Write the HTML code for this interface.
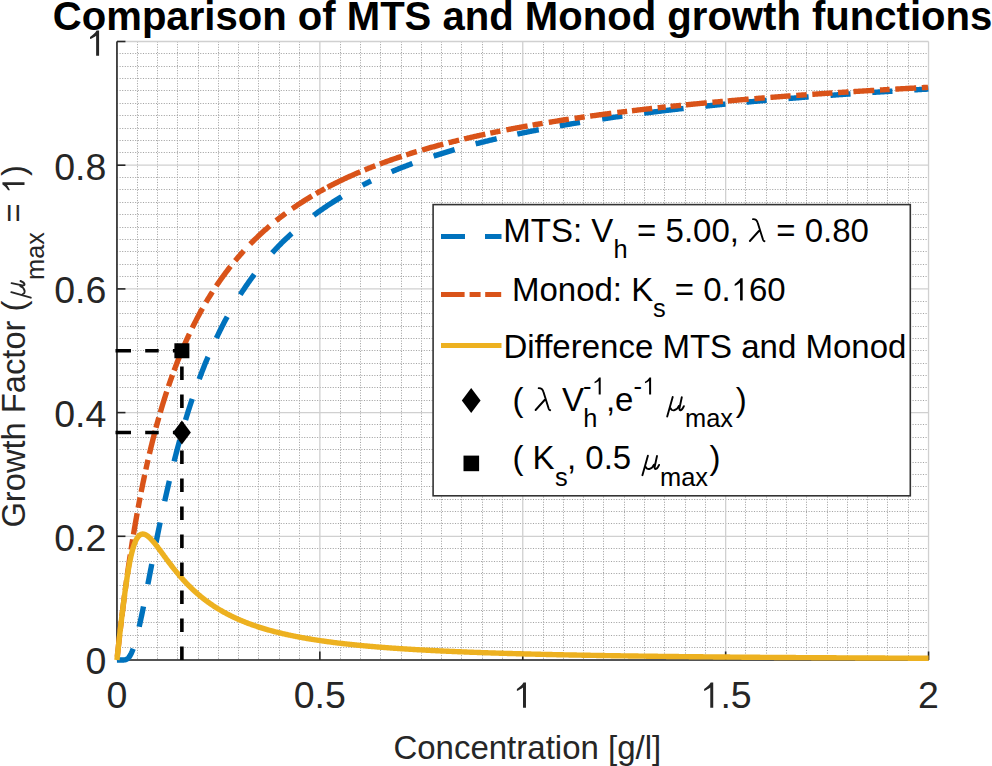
<!DOCTYPE html>
<html><head><meta charset="utf-8"><style>
html,body{margin:0;padding:0;background:#fff;}
svg{display:block;white-space:pre;font-family:"Liberation Sans",sans-serif;}
.mn{stroke:#a4a4a4;stroke-width:1;stroke-dasharray:1.1 1.5;}
.mj{stroke:#d0d0d0;stroke-width:1.3;}
</style></head><body>
<svg width="992" height="766" viewBox="0 0 992 766" xml:space="preserve">
<rect width="992" height="766" fill="#fff"/>
<g><line x1="137.50" y1="41.50" x2="137.50" y2="660.00" class="mn"/><line x1="157.50" y1="41.50" x2="157.50" y2="660.00" class="mn"/><line x1="177.50" y1="41.50" x2="177.50" y2="660.00" class="mn"/><line x1="198.50" y1="41.50" x2="198.50" y2="660.00" class="mn"/><line x1="218.50" y1="41.50" x2="218.50" y2="660.00" class="mn"/><line x1="238.50" y1="41.50" x2="238.50" y2="660.00" class="mn"/><line x1="258.50" y1="41.50" x2="258.50" y2="660.00" class="mn"/><line x1="279.50" y1="41.50" x2="279.50" y2="660.00" class="mn"/><line x1="299.50" y1="41.50" x2="299.50" y2="660.00" class="mn"/><line x1="340.50" y1="41.50" x2="340.50" y2="660.00" class="mn"/><line x1="360.50" y1="41.50" x2="360.50" y2="660.00" class="mn"/><line x1="380.50" y1="41.50" x2="380.50" y2="660.00" class="mn"/><line x1="401.50" y1="41.50" x2="401.50" y2="660.00" class="mn"/><line x1="421.50" y1="41.50" x2="421.50" y2="660.00" class="mn"/><line x1="441.50" y1="41.50" x2="441.50" y2="660.00" class="mn"/><line x1="461.50" y1="41.50" x2="461.50" y2="660.00" class="mn"/><line x1="482.50" y1="41.50" x2="482.50" y2="660.00" class="mn"/><line x1="502.50" y1="41.50" x2="502.50" y2="660.00" class="mn"/><line x1="543.50" y1="41.50" x2="543.50" y2="660.00" class="mn"/><line x1="563.50" y1="41.50" x2="563.50" y2="660.00" class="mn"/><line x1="583.50" y1="41.50" x2="583.50" y2="660.00" class="mn"/><line x1="603.50" y1="41.50" x2="603.50" y2="660.00" class="mn"/><line x1="624.50" y1="41.50" x2="624.50" y2="660.00" class="mn"/><line x1="644.50" y1="41.50" x2="644.50" y2="660.00" class="mn"/><line x1="664.50" y1="41.50" x2="664.50" y2="660.00" class="mn"/><line x1="685.50" y1="41.50" x2="685.50" y2="660.00" class="mn"/><line x1="705.50" y1="41.50" x2="705.50" y2="660.00" class="mn"/><line x1="745.50" y1="41.50" x2="745.50" y2="660.00" class="mn"/><line x1="766.50" y1="41.50" x2="766.50" y2="660.00" class="mn"/><line x1="786.50" y1="41.50" x2="786.50" y2="660.00" class="mn"/><line x1="806.50" y1="41.50" x2="806.50" y2="660.00" class="mn"/><line x1="827.50" y1="41.50" x2="827.50" y2="660.00" class="mn"/><line x1="847.50" y1="41.50" x2="847.50" y2="660.00" class="mn"/><line x1="867.50" y1="41.50" x2="867.50" y2="660.00" class="mn"/><line x1="887.50" y1="41.50" x2="887.50" y2="660.00" class="mn"/><line x1="908.50" y1="41.50" x2="908.50" y2="660.00" class="mn"/><line x1="116.95" y1="647.50" x2="928.55" y2="647.50" class="mn"/><line x1="116.95" y1="635.50" x2="928.55" y2="635.50" class="mn"/><line x1="116.95" y1="622.50" x2="928.55" y2="622.50" class="mn"/><line x1="116.95" y1="610.50" x2="928.55" y2="610.50" class="mn"/><line x1="116.95" y1="598.50" x2="928.55" y2="598.50" class="mn"/><line x1="116.95" y1="585.50" x2="928.55" y2="585.50" class="mn"/><line x1="116.95" y1="573.50" x2="928.55" y2="573.50" class="mn"/><line x1="116.95" y1="561.50" x2="928.55" y2="561.50" class="mn"/><line x1="116.95" y1="548.50" x2="928.55" y2="548.50" class="mn"/><line x1="116.95" y1="523.50" x2="928.55" y2="523.50" class="mn"/><line x1="116.95" y1="511.50" x2="928.55" y2="511.50" class="mn"/><line x1="116.95" y1="499.50" x2="928.55" y2="499.50" class="mn"/><line x1="116.95" y1="486.50" x2="928.55" y2="486.50" class="mn"/><line x1="116.95" y1="474.50" x2="928.55" y2="474.50" class="mn"/><line x1="116.95" y1="462.50" x2="928.55" y2="462.50" class="mn"/><line x1="116.95" y1="449.50" x2="928.55" y2="449.50" class="mn"/><line x1="116.95" y1="437.50" x2="928.55" y2="437.50" class="mn"/><line x1="116.95" y1="424.50" x2="928.55" y2="424.50" class="mn"/><line x1="116.95" y1="400.50" x2="928.55" y2="400.50" class="mn"/><line x1="116.95" y1="387.50" x2="928.55" y2="387.50" class="mn"/><line x1="116.95" y1="375.50" x2="928.55" y2="375.50" class="mn"/><line x1="116.95" y1="363.50" x2="928.55" y2="363.50" class="mn"/><line x1="116.95" y1="350.50" x2="928.55" y2="350.50" class="mn"/><line x1="116.95" y1="338.50" x2="928.55" y2="338.50" class="mn"/><line x1="116.95" y1="326.50" x2="928.55" y2="326.50" class="mn"/><line x1="116.95" y1="313.50" x2="928.55" y2="313.50" class="mn"/><line x1="116.95" y1="301.50" x2="928.55" y2="301.50" class="mn"/><line x1="116.95" y1="276.50" x2="928.55" y2="276.50" class="mn"/><line x1="116.95" y1="264.50" x2="928.55" y2="264.50" class="mn"/><line x1="116.95" y1="251.50" x2="928.55" y2="251.50" class="mn"/><line x1="116.95" y1="239.50" x2="928.55" y2="239.50" class="mn"/><line x1="116.95" y1="227.50" x2="928.55" y2="227.50" class="mn"/><line x1="116.95" y1="214.50" x2="928.55" y2="214.50" class="mn"/><line x1="116.95" y1="202.50" x2="928.55" y2="202.50" class="mn"/><line x1="116.95" y1="189.50" x2="928.55" y2="189.50" class="mn"/><line x1="116.95" y1="177.50" x2="928.55" y2="177.50" class="mn"/><line x1="116.95" y1="152.50" x2="928.55" y2="152.50" class="mn"/><line x1="116.95" y1="140.50" x2="928.55" y2="140.50" class="mn"/><line x1="116.95" y1="128.50" x2="928.55" y2="128.50" class="mn"/><line x1="116.95" y1="115.50" x2="928.55" y2="115.50" class="mn"/><line x1="116.95" y1="103.50" x2="928.55" y2="103.50" class="mn"/><line x1="116.95" y1="90.50" x2="928.55" y2="90.50" class="mn"/><line x1="116.95" y1="78.50" x2="928.55" y2="78.50" class="mn"/><line x1="116.95" y1="66.50" x2="928.55" y2="66.50" class="mn"/><line x1="116.95" y1="53.50" x2="928.55" y2="53.50" class="mn"/><line x1="116.95" y1="41.50" x2="116.95" y2="660.00" class="mj"/><line x1="319.85" y1="41.50" x2="319.85" y2="660.00" class="mj"/><line x1="522.75" y1="41.50" x2="522.75" y2="660.00" class="mj"/><line x1="725.65" y1="41.50" x2="725.65" y2="660.00" class="mj"/><line x1="928.55" y1="41.50" x2="928.55" y2="660.00" class="mj"/><line x1="116.95" y1="660.00" x2="928.55" y2="660.00" class="mj"/><line x1="116.95" y1="536.30" x2="928.55" y2="536.30" class="mj"/><line x1="116.95" y1="412.60" x2="928.55" y2="412.60" class="mj"/><line x1="116.95" y1="288.90" x2="928.55" y2="288.90" class="mj"/><line x1="116.95" y1="165.20" x2="928.55" y2="165.20" class="mj"/><line x1="116.95" y1="41.50" x2="928.55" y2="41.50" class="mj"/></g>
<g stroke="#262626" stroke-width="1.6" fill="none">
<line x1="116.95" y1="41.5" x2="116.95" y2="660.0"/>
<line x1="116.95" y1="660.0" x2="928.55" y2="660.0"/>
<line x1="116.95" y1="660.00" x2="116.95" y2="651.50"/><line x1="319.85" y1="660.00" x2="319.85" y2="651.50"/><line x1="522.75" y1="660.00" x2="522.75" y2="651.50"/><line x1="725.65" y1="660.00" x2="725.65" y2="651.50"/><line x1="928.55" y1="660.00" x2="928.55" y2="651.50"/><line x1="116.95" y1="660.00" x2="125.45" y2="660.00"/><line x1="116.95" y1="536.30" x2="125.45" y2="536.30"/><line x1="116.95" y1="412.60" x2="125.45" y2="412.60"/><line x1="116.95" y1="288.90" x2="125.45" y2="288.90"/><line x1="116.95" y1="165.20" x2="125.45" y2="165.20"/><line x1="116.95" y1="41.50" x2="125.45" y2="41.50"/>
</g>
<g fill="none" stroke-width="5.4" stroke-linejoin="round">
<path d="M116.95 660.00 L117.15 660.00 L117.36 660.00 L117.56 660.00 L117.76 660.00 L117.96 660.00 L118.17 660.00 L118.37 660.00 L118.57 660.00 L118.78 660.00 L118.98 660.00 L119.18 660.00 L119.38 660.00 L119.59 660.00 L119.79 660.00 L119.99 660.00 L120.20 660.00 L120.40 660.00 L120.60 660.00 L120.81 660.00 L121.01 660.00 L121.21 660.00 L121.41 660.00 L121.62 660.00 L121.82 660.00 L122.02 660.00 L122.23 660.00 L122.43 660.00 L122.63 659.99 L122.83 659.99 L123.04 659.99 L123.24 659.98 L123.44 659.97 L123.65 659.96 L123.85 659.95 L124.05 659.93 L124.25 659.91 L124.46 659.89 L124.66 659.86 L124.86 659.83 L125.07 659.79 L125.27 659.75 L125.47 659.70 L125.67 659.64 L125.88 659.57 L126.08 659.50 L126.28 659.41 L126.49 659.32 L126.69 659.21 L126.89 659.10 L127.09 658.97 L127.30 658.83 L127.50 658.69 L127.70 658.52 L127.91 658.35 L128.11 658.16 L128.31 657.96 L128.52 657.74 L128.72 657.52 L128.92 657.27 L129.12 657.01 L129.33 656.74 L129.53 656.45 L129.73 656.15 L129.94 655.83 L130.14 655.50 L130.34 655.15 L130.54 654.79 L130.75 654.41 L130.95 654.01 L131.15 653.60 L131.36 653.18 L131.56 652.74 L131.76 652.28 L131.96 651.81 L132.17 651.32 L132.37 650.82 L132.57 650.31 L132.78 649.78 L132.98 649.23 L133.18 648.67 L133.38 648.10 L133.59 647.51 L133.79 646.91 L133.99 646.29 L134.20 645.67 L134.40 645.03 L134.60 644.37 L134.81 643.70 L135.01 643.02 L135.21 642.33 L135.41 641.63 L135.62 640.91 L135.82 640.19 L136.02 639.45 L136.23 638.70 L136.43 637.94 L136.63 637.16 L136.83 636.38 L137.04 635.59 L137.24 634.79 L137.44 633.98 L137.65 633.16 L137.85 632.33 L138.05 631.49 L138.25 630.64 L138.46 629.78 L138.66 628.92 L138.86 628.04 L139.07 627.16 L139.27 626.28 L139.47 625.38 L139.67 624.48 L139.88 623.57 L140.08 622.65 L140.28 621.73 L140.49 620.80 L140.69 619.86 L140.89 618.92 L141.10 617.98 L141.30 617.02 L141.50 616.07 L141.70 615.10 L141.91 614.14 L142.11 613.16 L142.31 612.19 L142.52 611.21 L142.72 610.22 L142.92 609.23 L143.12 608.24 L143.33 607.24 L143.53 606.24 L143.73 605.23 L143.94 604.23 L144.14 603.22 L144.34 602.20 L144.54 601.19 L144.75 600.17 L144.95 599.15 L145.15 598.12 L145.36 597.10 L145.56 596.07 L145.76 595.04 L145.96 594.01 L146.17 592.97 L146.37 591.94 L146.57 590.90 L146.78 589.86 L146.98 588.83 L147.18 587.79 L147.38 586.74 L147.59 585.70 L147.79 584.66 L147.99 583.61 L148.20 582.57 L148.40 581.52 L148.60 580.48 L148.81 579.43 L149.01 578.39 L149.21 577.34 L149.41 576.30 L149.62 575.25 L149.82 574.20 L150.02 573.16 L150.23 572.11 L150.43 571.07 L150.63 570.02 L150.83 568.98 L151.04 567.93 L151.24 566.89 L151.44 565.84 L151.65 564.80 L151.85 563.76 L152.05 562.72 L152.25 561.68 L152.46 560.64 L152.66 559.60 L152.86 558.57 L153.07 557.53 L153.27 556.50 L153.47 555.47 L153.67 554.43 L153.88 553.40 L154.08 552.37 L154.28 551.35 L154.49 550.32 L154.69 549.30 L154.89 548.27 L155.10 547.25 L155.30 546.23 L155.50 545.21 L155.70 544.20 L155.91 543.18 L156.11 542.17 L156.31 541.16 L156.52 540.15 L156.72 539.14 L156.92 538.13 L157.12 537.13 L157.33 536.13 L157.53 535.13 L157.73 534.13 L157.94 533.13 L158.14 532.14 L158.34 531.15 L158.54 530.16 L158.75 529.17 L158.95 528.18 L159.15 527.20 L159.36 526.22 L159.56 525.24 L159.76 524.26 L159.96 523.29 L160.17 522.32 L160.37 521.35 L160.57 520.38 L160.78 519.41 L160.98 518.45 L161.18 517.49 L161.39 516.53 L161.59 515.58 L161.79 514.62 L161.99 513.67 L162.20 512.72 L162.40 511.78 L162.60 510.83 L162.81 509.89 L163.01 508.95 L163.21 508.01 L163.41 507.08 L163.62 506.15 L163.82 505.22 L164.02 504.29 L164.23 503.37 L164.43 502.44 L164.63 501.53 L164.83 500.61 L165.04 499.69 L165.24 498.78 L165.44 497.87 L165.65 496.97 L165.85 496.06 L166.05 495.16 L166.25 494.26 L166.46 493.36 L166.66 492.47 L166.86 491.58 L167.07 490.69 L167.27 489.80 L167.47 488.92 L167.68 488.03 L167.88 487.15 L168.08 486.28 L168.28 485.40 L168.49 484.53 L168.69 483.66 L168.89 482.80 L169.10 481.93 L169.30 481.07 L169.50 480.21 L169.70 479.36 L169.91 478.50 L170.11 477.65 L170.31 476.80 L170.52 475.96 L170.72 475.11 L170.92 474.27 L171.12 473.43 L171.33 472.60 L171.53 471.76 L171.73 470.93 L171.94 470.10 L172.14 469.28 L172.34 468.45 L172.54 467.63 L172.75 466.81 L172.95 466.00 L173.15 465.18 L173.36 464.37 L173.56 463.56 L173.76 462.76 L173.96 461.95 L174.17 461.15 L174.37 460.35 L174.57 459.56 L174.78 458.76 L174.98 457.97 L175.18 457.18 L175.39 456.39 L175.59 455.61 L175.79 454.83 L175.99 454.05 L176.20 453.27 L176.40 452.50 L176.60 451.72 L176.81 450.95 L177.01 450.19 L177.21 449.42 L177.41 448.66 L177.62 447.90 L177.82 447.14 L178.02 446.39 L178.23 445.63 L178.43 444.88 L178.63 444.13 L178.83 443.39 L179.04 442.64 L179.24 441.90 L179.44 441.16 L179.65 440.42 L179.85 439.69 L180.05 438.96 L180.25 438.23 L180.46 437.50 L180.66 436.77 L180.86 436.05 L181.07 435.33 L181.27 434.61 L181.47 433.89 L181.68 433.18 L181.88 432.47 L182.08 431.76 L182.28 431.05 L182.49 430.34 L182.69 429.64 L182.89 428.94 L183.10 428.24 L183.30 427.54 L183.50 426.85 L183.70 426.16 L183.91 425.47 L184.11 424.78 L184.31 424.09 L184.52 423.41 L184.72 422.73 L184.92 422.05 L185.12 421.37 L185.33 420.69 L185.53 420.02 L185.73 419.35 L185.94 418.68 L186.14 418.01 L186.34 417.35 L186.54 416.69 L186.75 416.03 L186.95 415.37 L187.15 414.71 L187.36 414.06 L187.56 413.40 L187.76 412.75 L187.96 412.10 L188.17 411.46 L188.37 410.81 L188.57 410.17 L188.78 409.53 L188.98 408.89 L189.18 408.25 L189.39 407.62 L189.59 406.99 L189.79 406.36 L189.99 405.73 L190.20 405.10 L190.40 404.48 L190.60 403.85 L190.81 403.23 L191.01 402.61 L191.21 401.99 L191.41 401.38 L191.62 400.77 L191.82 400.15 L192.02 399.54 L192.23 398.94 L192.43 398.33 L192.63 397.73 L192.83 397.12 L193.04 396.52 L193.24 395.92 L193.44 395.33 L193.65 394.73 L193.85 394.14 L194.05 393.55 L194.25 392.96 L194.46 392.37 L194.66 391.79 L194.86 391.20 L195.07 390.62 L195.27 390.04 L195.47 389.46 L195.68 388.88 L195.88 388.31 L196.08 387.73 L196.28 387.16 L196.49 386.59 L196.69 386.02 L196.89 385.46 L197.10 384.89 L197.30 384.33 L197.50 383.77 L197.70 383.21 L197.91 382.65 L198.11 382.09 L198.92 379.88 L199.73 377.70 L200.54 375.54 L201.36 373.41 L202.17 371.30 L202.98 369.22 L203.79 367.16 L204.60 365.12 L205.41 363.11 L206.23 361.13 L207.04 359.16 L207.85 357.22 L208.66 355.30 L209.47 353.40 L210.28 351.52 L211.10 349.67 L211.91 347.83 L212.72 346.02 L213.53 344.23 L214.34 342.45 L215.15 340.70 L215.97 338.96 L216.78 337.25 L217.59 335.55 L218.40 333.87 L219.21 332.21 L220.02 330.57 L220.83 328.94 L221.65 327.33 L222.46 325.74 L223.27 324.17 L224.08 322.61 L224.89 321.07 L225.70 319.55 L226.52 318.04 L227.33 316.54 L228.14 315.07 L228.95 313.60 L229.76 312.15 L230.57 310.72 L231.39 309.30 L232.20 307.90 L233.01 306.51 L233.82 305.13 L234.63 303.77 L235.44 302.42 L236.26 301.09 L237.07 299.76 L237.88 298.46 L238.69 297.16 L239.50 295.88 L240.31 294.60 L241.12 293.34 L241.94 292.10 L242.75 290.86 L243.56 289.64 L244.37 288.43 L245.18 287.23 L245.99 286.04 L246.81 284.86 L247.62 283.69 L248.43 282.54 L249.24 281.39 L250.05 280.26 L250.86 279.13 L251.68 278.02 L252.49 276.92 L253.30 275.82 L254.11 274.74 L254.92 273.66 L255.73 272.60 L256.55 271.54 L257.36 270.50 L258.17 269.46 L258.98 268.43 L259.79 267.42 L260.60 266.41 L261.41 265.41 L262.23 264.41 L263.04 263.43 L263.85 262.45 L264.66 261.49 L265.47 260.53 L266.28 259.58 L267.10 258.64 L267.91 257.70 L268.72 256.78 L269.53 255.86 L270.34 254.95 L271.15 254.04 L271.97 253.15 L272.78 252.26 L273.59 251.38 L274.40 250.50 L275.21 249.64 L276.02 248.78 L276.84 247.92 L277.65 247.08 L278.46 246.24 L279.27 245.41 L280.08 244.58 L280.89 243.76 L281.70 242.95 L282.52 242.14 L283.33 241.34 L284.14 240.55 L284.95 239.76 L285.76 238.98 L286.57 238.20 L287.39 237.43 L288.20 236.67 L289.01 235.91 L289.82 235.16 L290.63 234.41 L291.44 233.67 L292.26 232.94 L293.07 232.21 L293.88 231.49 L294.69 230.77 L295.50 230.05 L296.31 229.35 L297.13 228.64 L297.94 227.95 L298.75 227.25 L299.56 226.57 L300.37 225.88 L301.18 225.21 L301.99 224.53 L302.81 223.86 L303.62 223.20 L304.43 222.54 L305.24 221.89 L306.05 221.24 L306.86 220.60 L307.68 219.96 L308.49 219.32 L309.30 218.69 L310.11 218.07 L310.92 217.44 L311.73 216.83 L312.55 216.21 L313.36 215.60 L314.17 215.00 L314.98 214.40 L315.79 213.80 L316.60 213.21 L317.42 212.62 L318.23 212.03 L319.04 211.45 L319.85 210.88 L320.66 210.30 L321.47 209.73 L322.28 209.17 L323.10 208.61 L323.91 208.05 L324.72 207.50 L325.53 206.95 L326.34 206.40 L327.15 205.85 L327.97 205.31 L328.78 204.78 L329.59 204.25 L330.40 203.72 L331.21 203.19 L332.02 202.67 L332.84 202.15 L333.65 201.63 L334.46 201.12 L335.27 200.61 L336.08 200.10 L336.89 199.60 L337.71 199.10 L338.52 198.60 L339.33 198.11 L340.14 197.62 L340.95 197.13 L341.76 196.65 L342.57 196.17 L343.39 195.69 L344.20 195.21 L345.01 194.74 L345.82 194.27 L346.63 193.80 L347.44 193.34 L348.26 192.88 L349.07 192.42 L349.88 191.96 L350.69 191.51 L351.50 191.06 L352.31 190.61 L353.13 190.16 L353.94 189.72 L354.75 189.28 L355.56 188.84 L356.37 188.41 L357.18 187.98 L358.00 187.55 L358.81 187.12 L359.62 186.70 L360.43 186.27 L361.24 185.85 L362.05 185.44 L362.86 185.02 L363.68 184.61 L364.49 184.20 L365.30 183.79 L366.11 183.38 L366.92 182.98 L367.73 182.58 L368.55 182.18 L369.36 181.78 L370.17 181.39 L370.98 181.00 L371.79 180.61 L372.60 180.22 L373.42 179.83 L374.23 179.45 L375.04 179.07 L375.85 178.69 L376.66 178.31 L377.47 177.94 L378.29 177.56 L379.10 177.19 L379.91 176.82 L380.72 176.46 L381.53 176.09 L382.34 175.73 L383.15 175.37 L383.97 175.01 L384.78 174.65 L385.59 174.29 L386.40 173.94 L387.21 173.59 L388.02 173.24 L388.84 172.89 L389.65 172.54 L390.46 172.20 L391.27 171.86 L392.08 171.51 L392.89 171.18 L393.71 170.84 L394.52 170.50 L395.33 170.17 L396.14 169.84 L396.95 169.51 L397.76 169.18 L398.58 168.85 L399.39 168.52 L400.20 168.20 L401.01 167.88 L401.82 167.56 L402.63 167.24 L403.44 166.92 L404.26 166.61 L405.07 166.29 L405.88 165.98 L406.69 165.67 L407.50 165.36 L408.31 165.05 L409.13 164.74 L409.94 164.44 L410.75 164.14 L411.56 163.83 L412.37 163.53 L413.18 163.23 L414.00 162.94 L414.81 162.64 L415.62 162.35 L416.43 162.05 L417.24 161.76 L418.05 161.47 L418.87 161.18 L419.68 160.89 L420.49 160.61 L421.30 160.32 L422.11 160.04 L422.92 159.76 L423.73 159.48 L424.55 159.20 L425.36 158.92 L426.17 158.64 L426.98 158.36 L427.79 158.09 L428.60 157.82 L429.42 157.55 L430.23 157.27 L431.04 157.01 L431.85 156.74 L432.66 156.47 L433.47 156.21 L434.29 155.94 L435.10 155.68 L435.91 155.42 L436.72 155.15 L437.53 154.90 L438.34 154.64 L439.16 154.38 L439.97 154.12 L440.78 153.87 L441.59 153.62 L442.40 153.36 L443.21 153.11 L444.02 152.86 L444.84 152.61 L445.65 152.36 L446.46 152.12 L447.27 151.87 L448.08 151.63 L448.89 151.38 L449.71 151.14 L450.52 150.90 L451.33 150.66 L452.14 150.42 L452.95 150.18 L453.76 149.94 L454.58 149.70 L455.39 149.47 L456.20 149.23 L457.01 149.00 L457.82 148.77 L458.63 148.54 L459.45 148.31 L460.26 148.08 L461.07 147.85 L461.88 147.62 L462.69 147.40 L463.50 147.17 L464.31 146.95 L465.13 146.72 L465.94 146.50 L466.75 146.28 L467.56 146.06 L468.37 145.84 L469.18 145.62 L470.00 145.40 L470.81 145.18 L471.62 144.97 L472.43 144.75 L473.24 144.54 L474.05 144.32 L474.87 144.11 L475.68 143.90 L476.49 143.69 L477.30 143.48 L478.11 143.27 L478.92 143.06 L479.74 142.85 L480.55 142.65 L481.36 142.44 L482.17 142.24 L482.98 142.03 L483.79 141.83 L484.60 141.63 L485.42 141.42 L486.23 141.22 L487.04 141.02 L487.85 140.82 L488.66 140.63 L489.47 140.43 L490.29 140.23 L491.10 140.04 L491.91 139.84 L492.72 139.65 L493.53 139.45 L494.34 139.26 L495.16 139.07 L495.97 138.87 L496.78 138.68 L497.59 138.49 L498.40 138.30 L499.21 138.12 L500.03 137.93 L500.84 137.74 L501.65 137.55 L502.46 137.37 L503.27 137.18 L504.08 137.00 L504.89 136.82 L505.71 136.63 L506.52 136.45 L507.33 136.27 L508.14 136.09 L508.95 135.91 L509.76 135.73 L510.58 135.55 L511.39 135.37 L512.20 135.20 L513.01 135.02 L513.82 134.84 L514.63 134.67 L515.45 134.49 L516.26 134.32 L517.07 134.15 L517.88 133.97 L518.69 133.80 L519.50 133.63 L520.32 133.46 L521.13 133.29 L521.94 133.12 L522.75 132.95 L523.56 132.78 L524.37 132.61 L525.18 132.45 L526.00 132.28 L526.81 132.11 L527.62 131.95 L528.43 131.78 L529.24 131.62 L530.05 131.46 L530.87 131.29 L531.68 131.13 L532.49 130.97 L533.30 130.81 L534.11 130.65 L534.92 130.49 L535.74 130.33 L536.55 130.17 L537.36 130.01 L538.17 129.85 L538.98 129.70 L539.79 129.54 L540.61 129.38 L541.42 129.23 L542.23 129.07 L543.04 128.92 L543.85 128.76 L544.66 128.61 L545.47 128.46 L546.29 128.31 L547.10 128.15 L547.91 128.00 L548.72 127.85 L549.53 127.70 L550.34 127.55 L551.16 127.40 L551.97 127.25 L552.78 127.11 L553.59 126.96 L554.40 126.81 L555.21 126.67 L556.03 126.52 L556.84 126.37 L557.65 126.23 L558.46 126.08 L559.27 125.94 L560.08 125.80 L560.90 125.65 L561.71 125.51 L562.52 125.37 L563.33 125.23 L564.14 125.09 L564.95 124.94 L565.76 124.80 L566.58 124.66 L567.39 124.53 L568.20 124.39 L569.01 124.25 L569.82 124.11 L570.63 123.97 L571.45 123.84 L572.26 123.70 L573.07 123.56 L573.88 123.43 L574.69 123.29 L575.50 123.16 L576.32 123.02 L577.13 122.89 L577.94 122.76 L578.75 122.62 L579.56 122.49 L580.37 122.36 L581.19 122.23 L582.00 122.10 L582.81 121.96 L583.62 121.83 L584.43 121.70 L585.24 121.57 L586.05 121.45 L586.87 121.32 L587.68 121.19 L588.49 121.06 L589.30 120.93 L590.11 120.81 L590.92 120.68 L591.74 120.55 L592.55 120.43 L593.36 120.30 L594.17 120.18 L594.98 120.05 L595.79 119.93 L596.61 119.80 L597.42 119.68 L598.23 119.56 L599.04 119.43 L599.85 119.31 L600.66 119.19 L601.48 119.07 L602.29 118.95 L603.10 118.83 L603.91 118.71 L604.72 118.59 L605.53 118.47 L606.34 118.35 L607.16 118.23 L607.97 118.11 L608.78 117.99 L609.59 117.87 L610.40 117.75 L611.21 117.64 L612.03 117.52 L612.84 117.40 L613.65 117.29 L614.46 117.17 L615.27 117.06 L616.08 116.94 L616.90 116.83 L617.71 116.71 L618.52 116.60 L619.33 116.49 L620.14 116.37 L620.95 116.26 L621.77 116.15 L622.58 116.03 L623.39 115.92 L624.20 115.81 L625.01 115.70 L625.82 115.59 L626.63 115.48 L627.45 115.37 L628.26 115.26 L629.07 115.15 L629.88 115.04 L630.69 114.93 L631.50 114.82 L632.32 114.71 L633.13 114.60 L633.94 114.50 L634.75 114.39 L635.56 114.28 L636.37 114.18 L637.19 114.07 L638.00 113.96 L638.81 113.86 L639.62 113.75 L640.43 113.65 L641.24 113.54 L642.06 113.44 L642.87 113.33 L643.68 113.23 L644.49 113.12 L645.30 113.02 L646.11 112.92 L646.92 112.82 L647.74 112.71 L648.55 112.61 L649.36 112.51 L650.17 112.41 L650.98 112.31 L651.79 112.20 L652.61 112.10 L653.42 112.00 L654.23 111.90 L655.04 111.80 L655.85 111.70 L656.66 111.60 L657.48 111.51 L658.29 111.41 L659.10 111.31 L659.91 111.21 L660.72 111.11 L661.53 111.01 L662.35 110.92 L663.16 110.82 L663.97 110.72 L664.78 110.63 L665.59 110.53 L666.40 110.43 L667.21 110.34 L668.03 110.24 L668.84 110.15 L669.65 110.05 L670.46 109.96 L671.27 109.86 L672.08 109.77 L672.90 109.68 L673.71 109.58 L674.52 109.49 L675.33 109.39 L676.14 109.30 L676.95 109.21 L677.77 109.12 L678.58 109.02 L679.39 108.93 L680.20 108.84 L681.01 108.75 L681.82 108.66 L682.64 108.57 L683.45 108.48 L684.26 108.39 L685.07 108.30 L685.88 108.21 L686.69 108.12 L687.50 108.03 L688.32 107.94 L689.13 107.85 L689.94 107.76 L690.75 107.67 L691.56 107.58 L692.37 107.50 L693.19 107.41 L694.00 107.32 L694.81 107.23 L695.62 107.15 L696.43 107.06 L697.24 106.97 L698.06 106.89 L698.87 106.80 L699.68 106.71 L700.49 106.63 L701.30 106.54 L702.11 106.46 L702.93 106.37 L703.74 106.29 L704.55 106.20 L705.36 106.12 L706.17 106.03 L706.98 105.95 L707.79 105.87 L708.61 105.78 L709.42 105.70 L710.23 105.62 L711.04 105.53 L711.85 105.45 L712.66 105.37 L713.48 105.29 L714.29 105.20 L715.10 105.12 L715.91 105.04 L716.72 104.96 L717.53 104.88 L718.35 104.80 L719.16 104.72 L719.97 104.63 L720.78 104.55 L721.59 104.47 L722.40 104.39 L723.22 104.31 L724.03 104.24 L724.84 104.16 L725.65 104.08 L726.46 104.00 L727.27 103.92 L728.08 103.84 L728.90 103.76 L729.71 103.68 L730.52 103.61 L731.33 103.53 L732.14 103.45 L732.95 103.37 L733.77 103.30 L734.58 103.22 L735.39 103.14 L736.20 103.07 L737.01 102.99 L737.82 102.91 L738.64 102.84 L739.45 102.76 L740.26 102.69 L741.07 102.61 L741.88 102.53 L742.69 102.46 L743.51 102.38 L744.32 102.31 L745.13 102.23 L745.94 102.16 L746.75 102.09 L747.56 102.01 L748.37 101.94 L749.19 101.86 L750.00 101.79 L750.81 101.72 L751.62 101.64 L752.43 101.57 L753.24 101.50 L754.06 101.43 L754.87 101.35 L755.68 101.28 L756.49 101.21 L757.30 101.14 L758.11 101.07 L758.93 100.99 L759.74 100.92 L760.55 100.85 L761.36 100.78 L762.17 100.71 L762.98 100.64 L763.80 100.57 L764.61 100.50 L765.42 100.43 L766.23 100.36 L767.04 100.29 L767.85 100.22 L768.66 100.15 L769.48 100.08 L770.29 100.01 L771.10 99.94 L771.91 99.87 L772.72 99.80 L773.53 99.74 L774.35 99.67 L775.16 99.60 L775.97 99.53 L776.78 99.46 L777.59 99.39 L778.40 99.33 L779.22 99.26 L780.03 99.19 L780.84 99.13 L781.65 99.06 L782.46 98.99 L783.27 98.92 L784.09 98.86 L784.90 98.79 L785.71 98.73 L786.52 98.66 L787.33 98.59 L788.14 98.53 L788.95 98.46 L789.77 98.40 L790.58 98.33 L791.39 98.27 L792.20 98.20 L793.01 98.14 L793.82 98.07 L794.64 98.01 L795.45 97.94 L796.26 97.88 L797.07 97.81 L797.88 97.75 L798.69 97.69 L799.51 97.62 L800.32 97.56 L801.13 97.50 L801.94 97.43 L802.75 97.37 L803.56 97.31 L804.38 97.24 L805.19 97.18 L806.00 97.12 L806.81 97.06 L807.62 96.99 L808.43 96.93 L809.24 96.87 L810.06 96.81 L810.87 96.75 L811.68 96.68 L812.49 96.62 L813.30 96.56 L814.11 96.50 L814.93 96.44 L815.74 96.38 L816.55 96.32 L817.36 96.26 L818.17 96.20 L818.98 96.14 L819.80 96.08 L820.61 96.02 L821.42 95.96 L822.23 95.90 L823.04 95.84 L823.85 95.78 L824.67 95.72 L825.48 95.66 L826.29 95.60 L827.10 95.54 L827.91 95.48 L828.72 95.42 L829.53 95.36 L830.35 95.31 L831.16 95.25 L831.97 95.19 L832.78 95.13 L833.59 95.07 L834.40 95.01 L835.22 94.96 L836.03 94.90 L836.84 94.84 L837.65 94.78 L838.46 94.73 L839.27 94.67 L840.09 94.61 L840.90 94.56 L841.71 94.50 L842.52 94.44 L843.33 94.39 L844.14 94.33 L844.96 94.27 L845.77 94.22 L846.58 94.16 L847.39 94.11 L848.20 94.05 L849.01 93.99 L849.82 93.94 L850.64 93.88 L851.45 93.83 L852.26 93.77 L853.07 93.72 L853.88 93.66 L854.69 93.61 L855.51 93.55 L856.32 93.50 L857.13 93.44 L857.94 93.39 L858.75 93.33 L859.56 93.28 L860.38 93.23 L861.19 93.17 L862.00 93.12 L862.81 93.06 L863.62 93.01 L864.43 92.96 L865.25 92.90 L866.06 92.85 L866.87 92.80 L867.68 92.74 L868.49 92.69 L869.30 92.64 L870.11 92.59 L870.93 92.53 L871.74 92.48 L872.55 92.43 L873.36 92.38 L874.17 92.32 L874.98 92.27 L875.80 92.22 L876.61 92.17 L877.42 92.12 L878.23 92.06 L879.04 92.01 L879.85 91.96 L880.67 91.91 L881.48 91.86 L882.29 91.81 L883.10 91.76 L883.91 91.70 L884.72 91.65 L885.54 91.60 L886.35 91.55 L887.16 91.50 L887.97 91.45 L888.78 91.40 L889.59 91.35 L890.40 91.30 L891.22 91.25 L892.03 91.20 L892.84 91.15 L893.65 91.10 L894.46 91.05 L895.27 91.00 L896.09 90.95 L896.90 90.90 L897.71 90.85 L898.52 90.80 L899.33 90.76 L900.14 90.71 L900.96 90.66 L901.77 90.61 L902.58 90.56 L903.39 90.51 L904.20 90.46 L905.01 90.42 L905.83 90.37 L906.64 90.32 L907.45 90.27 L908.26 90.22 L909.07 90.17 L909.88 90.13 L910.69 90.08 L911.51 90.03 L912.32 89.98 L913.13 89.94 L913.94 89.89 L914.75 89.84 L915.56 89.79 L916.38 89.75 L917.19 89.70 L918.00 89.65 L918.81 89.61 L919.62 89.56 L920.43 89.51 L921.25 89.47 L922.06 89.42 L922.87 89.37 L923.68 89.33 L924.49 89.28 L925.30 89.24 L926.12 89.19 L926.93 89.14 L927.74 89.10 L928.55 89.05" stroke="#0072bd" stroke-dasharray="22.4 22.8 20.7 22.6 20.7 22.0 20.3 21.8 20.9 20.0 22.0 20.9 22.2 21.0 23.9 20.6 24.0 25.6 24.7 27.9 27.7 28.4 33.6 23.8 9.6 22.5 22.4 22.4 22.0 21.8 21.7 21.1 21.9 21.4 20.5 22.4 20.4 21.9 39.8 21.9 20.2 21.1 20.3 21.8 20.3 21.9 20.1 21.8 20.2 21.8 14.2 500"/>
<path d="M116.95 660.00 L117.15 658.07 L117.36 656.16 L117.56 654.26 L117.76 652.36 L117.96 650.48 L118.17 648.62 L118.37 646.76 L118.57 644.91 L118.78 643.08 L118.98 641.26 L119.18 639.45 L119.38 637.64 L119.59 635.85 L119.79 634.07 L119.99 632.31 L120.20 630.55 L120.40 628.80 L120.60 627.06 L120.81 625.33 L121.01 623.62 L121.21 621.91 L121.41 620.21 L121.62 618.53 L121.82 616.85 L122.02 615.18 L122.23 613.52 L122.43 611.87 L122.63 610.24 L122.83 608.61 L123.04 606.99 L123.24 605.37 L123.44 603.77 L123.65 602.18 L123.85 600.60 L124.05 599.02 L124.25 597.46 L124.46 595.90 L124.66 594.35 L124.86 592.81 L125.07 591.28 L125.27 589.75 L125.47 588.24 L125.67 586.73 L125.88 585.24 L126.08 583.75 L126.28 582.27 L126.49 580.79 L126.69 579.33 L126.89 577.87 L127.09 576.42 L127.30 574.98 L127.50 573.54 L127.70 572.12 L127.91 570.70 L128.11 569.29 L128.31 567.88 L128.52 566.49 L128.72 565.10 L128.92 563.72 L129.12 562.34 L129.33 560.98 L129.53 559.62 L129.73 558.26 L129.94 556.92 L130.14 555.58 L130.34 554.25 L130.54 552.92 L130.75 551.60 L130.95 550.29 L131.15 548.99 L131.36 547.69 L131.56 546.40 L131.76 545.11 L131.96 543.84 L132.17 542.56 L132.37 541.30 L132.57 540.04 L132.78 538.79 L132.98 537.54 L133.18 536.30 L133.38 535.07 L133.59 533.84 L133.79 532.62 L133.99 531.40 L134.20 530.19 L134.40 528.99 L134.60 527.79 L134.81 526.60 L135.01 525.41 L135.21 524.23 L135.41 523.06 L135.62 521.89 L135.82 520.73 L136.02 519.57 L136.23 518.42 L136.43 517.27 L136.63 516.13 L136.83 514.99 L137.04 513.86 L137.24 512.74 L137.44 511.62 L137.65 510.50 L137.85 509.40 L138.05 508.29 L138.25 507.19 L138.46 506.10 L138.66 505.01 L138.86 503.93 L139.07 502.85 L139.27 501.78 L139.47 500.71 L139.67 499.65 L139.88 498.59 L140.08 497.54 L140.28 496.49 L140.49 495.44 L140.69 494.41 L140.89 493.37 L141.10 492.34 L141.30 491.32 L141.50 490.30 L141.70 489.28 L141.91 488.27 L142.11 487.27 L142.31 486.26 L142.52 485.27 L142.72 484.27 L142.92 483.29 L143.12 482.30 L143.33 481.32 L143.53 480.35 L143.73 479.38 L143.94 478.41 L144.14 477.45 L144.34 476.49 L144.54 475.54 L144.75 474.59 L144.95 473.64 L145.15 472.70 L145.36 471.76 L145.56 470.83 L145.76 469.90 L145.96 468.97 L146.17 468.05 L146.37 467.13 L146.57 466.22 L146.78 465.31 L146.98 464.41 L147.18 463.50 L147.38 462.61 L147.59 461.71 L147.79 460.82 L147.99 459.94 L148.20 459.05 L148.40 458.17 L148.60 457.30 L148.81 456.43 L149.01 455.56 L149.21 454.69 L149.41 453.83 L149.62 452.98 L149.82 452.12 L150.02 451.27 L150.23 450.43 L150.43 449.58 L150.63 448.74 L150.83 447.91 L151.04 447.07 L151.24 446.24 L151.44 445.42 L151.65 444.60 L151.85 443.78 L152.05 442.96 L152.25 442.15 L152.46 441.34 L152.66 440.53 L152.86 439.73 L153.07 438.93 L153.27 438.13 L153.47 437.34 L153.67 436.55 L153.88 435.76 L154.08 434.98 L154.28 434.20 L154.49 433.42 L154.69 432.65 L154.89 431.87 L155.10 431.11 L155.30 430.34 L155.50 429.58 L155.70 428.82 L155.91 428.06 L156.11 427.31 L156.31 426.56 L156.52 425.81 L156.72 425.07 L156.92 424.32 L157.12 423.58 L157.33 422.85 L157.53 422.12 L157.73 421.38 L157.94 420.66 L158.14 419.93 L158.34 419.21 L158.54 418.49 L158.75 417.77 L158.95 417.06 L159.15 416.35 L159.36 415.64 L159.56 414.93 L159.76 414.23 L159.96 413.53 L160.17 412.83 L160.37 412.14 L160.57 411.44 L160.78 410.75 L160.98 410.07 L161.18 409.38 L161.39 408.70 L161.59 408.02 L161.79 407.34 L161.99 406.67 L162.20 405.99 L162.40 405.32 L162.60 404.66 L162.81 403.99 L163.01 403.33 L163.21 402.67 L163.41 402.01 L163.62 401.35 L163.82 400.70 L164.02 400.05 L164.23 399.40 L164.43 398.76 L164.63 398.11 L164.83 397.47 L165.04 396.83 L165.24 396.20 L165.44 395.56 L165.65 394.93 L165.85 394.30 L166.05 393.67 L166.25 393.05 L166.46 392.42 L166.66 391.80 L166.86 391.18 L167.07 390.57 L167.27 389.95 L167.47 389.34 L167.68 388.73 L167.88 388.12 L168.08 387.51 L168.28 386.91 L168.49 386.31 L168.69 385.71 L168.89 385.11 L169.10 384.52 L169.30 383.92 L169.50 383.33 L169.70 382.74 L169.91 382.15 L170.11 381.57 L170.31 380.99 L170.52 380.40 L170.72 379.82 L170.92 379.25 L171.12 378.67 L171.33 378.10 L171.53 377.53 L171.73 376.96 L171.94 376.39 L172.14 375.82 L172.34 375.26 L172.54 374.70 L172.75 374.14 L172.95 373.58 L173.15 373.02 L173.36 372.47 L173.56 371.92 L173.76 371.37 L173.96 370.82 L174.17 370.27 L174.37 369.73 L174.57 369.18 L174.78 368.64 L174.98 368.10 L175.18 367.56 L175.39 367.03 L175.59 366.49 L175.79 365.96 L175.99 365.43 L176.20 364.90 L176.40 364.37 L176.60 363.85 L176.81 363.32 L177.01 362.80 L177.21 362.28 L177.41 361.76 L177.62 361.24 L177.82 360.73 L178.02 360.21 L178.23 359.70 L178.43 359.19 L178.63 358.68 L178.83 358.17 L179.04 357.67 L179.24 357.16 L179.44 356.66 L179.65 356.16 L179.85 355.66 L180.05 355.16 L180.25 354.66 L180.46 354.17 L180.66 353.68 L180.86 353.19 L181.07 352.69 L181.27 352.21 L181.47 351.72 L181.68 351.23 L181.88 350.75 L182.08 350.27 L182.28 349.79 L182.49 349.31 L182.69 348.83 L182.89 348.35 L183.10 347.88 L183.30 347.40 L183.50 346.93 L183.70 346.46 L183.91 345.99 L184.11 345.52 L184.31 345.06 L184.52 344.59 L184.72 344.13 L184.92 343.67 L185.12 343.21 L185.33 342.75 L185.53 342.29 L185.73 341.83 L185.94 341.38 L186.14 340.93 L186.34 340.47 L186.54 340.02 L186.75 339.57 L186.95 339.12 L187.15 338.68 L187.36 338.23 L187.56 337.79 L187.76 337.34 L187.96 336.90 L188.17 336.46 L188.37 336.02 L188.57 335.59 L188.78 335.15 L188.98 334.71 L189.18 334.28 L189.39 333.85 L189.59 333.42 L189.79 332.99 L189.99 332.56 L190.20 332.13 L190.40 331.71 L190.60 331.28 L190.81 330.86 L191.01 330.43 L191.21 330.01 L191.41 329.59 L191.62 329.17 L191.82 328.76 L192.02 328.34 L192.23 327.93 L192.43 327.51 L192.63 327.10 L192.83 326.69 L193.04 326.28 L193.24 325.87 L193.44 325.46 L193.65 325.05 L193.85 324.65 L194.05 324.24 L194.25 323.84 L194.46 323.44 L194.66 323.04 L194.86 322.64 L195.07 322.24 L195.27 321.84 L195.47 321.44 L195.68 321.05 L195.88 320.65 L196.08 320.26 L196.28 319.87 L196.49 319.48 L196.69 319.09 L196.89 318.70 L197.10 318.31 L197.30 317.92 L197.50 317.54 L197.70 317.15 L197.91 316.77 L198.11 316.39 L198.92 314.87 L199.73 313.37 L200.54 311.88 L201.36 310.41 L202.17 308.96 L202.98 307.52 L203.79 306.10 L204.60 304.69 L205.41 303.30 L206.23 301.92 L207.04 300.56 L207.85 299.21 L208.66 297.87 L209.47 296.55 L210.28 295.24 L211.10 293.95 L211.91 292.67 L212.72 291.40 L213.53 290.14 L214.34 288.90 L215.15 287.67 L215.97 286.45 L216.78 285.24 L217.59 284.05 L218.40 282.87 L219.21 281.69 L220.02 280.53 L220.83 279.38 L221.65 278.25 L222.46 277.12 L223.27 276.00 L224.08 274.90 L224.89 273.80 L225.70 272.71 L226.52 271.64 L227.33 270.57 L228.14 269.52 L228.95 268.47 L229.76 267.44 L230.57 266.41 L231.39 265.39 L232.20 264.38 L233.01 263.38 L233.82 262.39 L234.63 261.41 L235.44 260.44 L236.26 259.47 L237.07 258.52 L237.88 257.57 L238.69 256.63 L239.50 255.70 L240.31 254.78 L241.12 253.86 L241.94 252.95 L242.75 252.05 L243.56 251.16 L244.37 250.28 L245.18 249.40 L245.99 248.53 L246.81 247.67 L247.62 246.81 L248.43 245.96 L249.24 245.12 L250.05 244.29 L250.86 243.46 L251.68 242.64 L252.49 241.82 L253.30 241.02 L254.11 240.21 L254.92 239.42 L255.73 238.63 L256.55 237.85 L257.36 237.07 L258.17 236.30 L258.98 235.54 L259.79 234.78 L260.60 234.03 L261.41 233.28 L262.23 232.54 L263.04 231.81 L263.85 231.08 L264.66 230.35 L265.47 229.64 L266.28 228.92 L267.10 228.22 L267.91 227.52 L268.72 226.82 L269.53 226.13 L270.34 225.44 L271.15 224.76 L271.97 224.08 L272.78 223.41 L273.59 222.75 L274.40 222.08 L275.21 221.43 L276.02 220.78 L276.84 220.13 L277.65 219.49 L278.46 218.85 L279.27 218.21 L280.08 217.59 L280.89 216.96 L281.70 216.34 L282.52 215.73 L283.33 215.11 L284.14 214.51 L284.95 213.90 L285.76 213.31 L286.57 212.71 L287.39 212.12 L288.20 211.53 L289.01 210.95 L289.82 210.37 L290.63 209.80 L291.44 209.23 L292.26 208.66 L293.07 208.10 L293.88 207.54 L294.69 206.98 L295.50 206.43 L296.31 205.89 L297.13 205.34 L297.94 204.80 L298.75 204.26 L299.56 203.73 L300.37 203.20 L301.18 202.67 L301.99 202.15 L302.81 201.63 L303.62 201.11 L304.43 200.60 L305.24 200.09 L306.05 199.58 L306.86 199.08 L307.68 198.58 L308.49 198.08 L309.30 197.59 L310.11 197.10 L310.92 196.61 L311.73 196.12 L312.55 195.64 L313.36 195.16 L314.17 194.69 L314.98 194.22 L315.79 193.75 L316.60 193.28 L317.42 192.81 L318.23 192.35 L319.04 191.90 L319.85 191.44 L320.66 190.99 L321.47 190.54 L322.28 190.09 L323.10 189.64 L323.91 189.20 L324.72 188.76 L325.53 188.32 L326.34 187.89 L327.15 187.46 L327.97 187.03 L328.78 186.60 L329.59 186.18 L330.40 185.76 L331.21 185.34 L332.02 184.92 L332.84 184.51 L333.65 184.09 L334.46 183.68 L335.27 183.28 L336.08 182.87 L336.89 182.47 L337.71 182.07 L338.52 181.67 L339.33 181.27 L340.14 180.88 L340.95 180.49 L341.76 180.10 L342.57 179.71 L343.39 179.33 L344.20 178.94 L345.01 178.56 L345.82 178.19 L346.63 177.81 L347.44 177.43 L348.26 177.06 L349.07 176.69 L349.88 176.32 L350.69 175.96 L351.50 175.59 L352.31 175.23 L353.13 174.87 L353.94 174.51 L354.75 174.15 L355.56 173.80 L356.37 173.45 L357.18 173.10 L358.00 172.75 L358.81 172.40 L359.62 172.05 L360.43 171.71 L361.24 171.37 L362.05 171.03 L362.86 170.69 L363.68 170.35 L364.49 170.02 L365.30 169.69 L366.11 169.36 L366.92 169.03 L367.73 168.70 L368.55 168.37 L369.36 168.05 L370.17 167.72 L370.98 167.40 L371.79 167.08 L372.60 166.77 L373.42 166.45 L374.23 166.13 L375.04 165.82 L375.85 165.51 L376.66 165.20 L377.47 164.89 L378.29 164.58 L379.10 164.28 L379.91 163.98 L380.72 163.67 L381.53 163.37 L382.34 163.07 L383.15 162.77 L383.97 162.48 L384.78 162.18 L385.59 161.89 L386.40 161.60 L387.21 161.31 L388.02 161.02 L388.84 160.73 L389.65 160.44 L390.46 160.16 L391.27 159.87 L392.08 159.59 L392.89 159.31 L393.71 159.03 L394.52 158.75 L395.33 158.47 L396.14 158.20 L396.95 157.92 L397.76 157.65 L398.58 157.38 L399.39 157.11 L400.20 156.84 L401.01 156.57 L401.82 156.30 L402.63 156.04 L403.44 155.77 L404.26 155.51 L405.07 155.25 L405.88 154.99 L406.69 154.73 L407.50 154.47 L408.31 154.21 L409.13 153.95 L409.94 153.70 L410.75 153.45 L411.56 153.19 L412.37 152.94 L413.18 152.69 L414.00 152.44 L414.81 152.19 L415.62 151.95 L416.43 151.70 L417.24 151.46 L418.05 151.21 L418.87 150.97 L419.68 150.73 L420.49 150.49 L421.30 150.25 L422.11 150.01 L422.92 149.77 L423.73 149.53 L424.55 149.30 L425.36 149.07 L426.17 148.83 L426.98 148.60 L427.79 148.37 L428.60 148.14 L429.42 147.91 L430.23 147.68 L431.04 147.45 L431.85 147.23 L432.66 147.00 L433.47 146.78 L434.29 146.55 L435.10 146.33 L435.91 146.11 L436.72 145.89 L437.53 145.67 L438.34 145.45 L439.16 145.23 L439.97 145.01 L440.78 144.80 L441.59 144.58 L442.40 144.37 L443.21 144.16 L444.02 143.94 L444.84 143.73 L445.65 143.52 L446.46 143.31 L447.27 143.10 L448.08 142.89 L448.89 142.69 L449.71 142.48 L450.52 142.27 L451.33 142.07 L452.14 141.87 L452.95 141.66 L453.76 141.46 L454.58 141.26 L455.39 141.06 L456.20 140.86 L457.01 140.66 L457.82 140.46 L458.63 140.26 L459.45 140.07 L460.26 139.87 L461.07 139.67 L461.88 139.48 L462.69 139.29 L463.50 139.09 L464.31 138.90 L465.13 138.71 L465.94 138.52 L466.75 138.33 L467.56 138.14 L468.37 137.95 L469.18 137.76 L470.00 137.58 L470.81 137.39 L471.62 137.21 L472.43 137.02 L473.24 136.84 L474.05 136.65 L474.87 136.47 L475.68 136.29 L476.49 136.11 L477.30 135.93 L478.11 135.75 L478.92 135.57 L479.74 135.39 L480.55 135.21 L481.36 135.03 L482.17 134.86 L482.98 134.68 L483.79 134.51 L484.60 134.33 L485.42 134.16 L486.23 133.99 L487.04 133.81 L487.85 133.64 L488.66 133.47 L489.47 133.30 L490.29 133.13 L491.10 132.96 L491.91 132.79 L492.72 132.62 L493.53 132.46 L494.34 132.29 L495.16 132.12 L495.97 131.96 L496.78 131.79 L497.59 131.63 L498.40 131.46 L499.21 131.30 L500.03 131.14 L500.84 130.98 L501.65 130.81 L502.46 130.65 L503.27 130.49 L504.08 130.33 L504.89 130.17 L505.71 130.02 L506.52 129.86 L507.33 129.70 L508.14 129.54 L508.95 129.39 L509.76 129.23 L510.58 129.08 L511.39 128.92 L512.20 128.77 L513.01 128.61 L513.82 128.46 L514.63 128.31 L515.45 128.15 L516.26 128.00 L517.07 127.85 L517.88 127.70 L518.69 127.55 L519.50 127.40 L520.32 127.25 L521.13 127.11 L521.94 126.96 L522.75 126.81 L523.56 126.66 L524.37 126.52 L525.18 126.37 L526.00 126.23 L526.81 126.08 L527.62 125.94 L528.43 125.79 L529.24 125.65 L530.05 125.51 L530.87 125.36 L531.68 125.22 L532.49 125.08 L533.30 124.94 L534.11 124.80 L534.92 124.66 L535.74 124.52 L536.55 124.38 L537.36 124.24 L538.17 124.10 L538.98 123.97 L539.79 123.83 L540.61 123.69 L541.42 123.56 L542.23 123.42 L543.04 123.29 L543.85 123.15 L544.66 123.02 L545.47 122.88 L546.29 122.75 L547.10 122.61 L547.91 122.48 L548.72 122.35 L549.53 122.22 L550.34 122.09 L551.16 121.96 L551.97 121.82 L552.78 121.69 L553.59 121.56 L554.40 121.44 L555.21 121.31 L556.03 121.18 L556.84 121.05 L557.65 120.92 L558.46 120.79 L559.27 120.67 L560.08 120.54 L560.90 120.42 L561.71 120.29 L562.52 120.16 L563.33 120.04 L564.14 119.92 L564.95 119.79 L565.76 119.67 L566.58 119.54 L567.39 119.42 L568.20 119.30 L569.01 119.18 L569.82 119.05 L570.63 118.93 L571.45 118.81 L572.26 118.69 L573.07 118.57 L573.88 118.45 L574.69 118.33 L575.50 118.21 L576.32 118.09 L577.13 117.98 L577.94 117.86 L578.75 117.74 L579.56 117.62 L580.37 117.51 L581.19 117.39 L582.00 117.27 L582.81 117.16 L583.62 117.04 L584.43 116.93 L585.24 116.81 L586.05 116.70 L586.87 116.58 L587.68 116.47 L588.49 116.36 L589.30 116.24 L590.11 116.13 L590.92 116.02 L591.74 115.91 L592.55 115.79 L593.36 115.68 L594.17 115.57 L594.98 115.46 L595.79 115.35 L596.61 115.24 L597.42 115.13 L598.23 115.02 L599.04 114.91 L599.85 114.80 L600.66 114.70 L601.48 114.59 L602.29 114.48 L603.10 114.37 L603.91 114.26 L604.72 114.16 L605.53 114.05 L606.34 113.95 L607.16 113.84 L607.97 113.73 L608.78 113.63 L609.59 113.52 L610.40 113.42 L611.21 113.31 L612.03 113.21 L612.84 113.11 L613.65 113.00 L614.46 112.90 L615.27 112.80 L616.08 112.69 L616.90 112.59 L617.71 112.49 L618.52 112.39 L619.33 112.29 L620.14 112.19 L620.95 112.08 L621.77 111.98 L622.58 111.88 L623.39 111.78 L624.20 111.68 L625.01 111.58 L625.82 111.49 L626.63 111.39 L627.45 111.29 L628.26 111.19 L629.07 111.09 L629.88 110.99 L630.69 110.90 L631.50 110.80 L632.32 110.70 L633.13 110.61 L633.94 110.51 L634.75 110.41 L635.56 110.32 L636.37 110.22 L637.19 110.13 L638.00 110.03 L638.81 109.94 L639.62 109.84 L640.43 109.75 L641.24 109.65 L642.06 109.56 L642.87 109.47 L643.68 109.37 L644.49 109.28 L645.30 109.19 L646.11 109.10 L646.92 109.00 L647.74 108.91 L648.55 108.82 L649.36 108.73 L650.17 108.64 L650.98 108.55 L651.79 108.46 L652.61 108.36 L653.42 108.27 L654.23 108.18 L655.04 108.09 L655.85 108.01 L656.66 107.92 L657.48 107.83 L658.29 107.74 L659.10 107.65 L659.91 107.56 L660.72 107.47 L661.53 107.39 L662.35 107.30 L663.16 107.21 L663.97 107.12 L664.78 107.04 L665.59 106.95 L666.40 106.86 L667.21 106.78 L668.03 106.69 L668.84 106.61 L669.65 106.52 L670.46 106.43 L671.27 106.35 L672.08 106.26 L672.90 106.18 L673.71 106.10 L674.52 106.01 L675.33 105.93 L676.14 105.84 L676.95 105.76 L677.77 105.68 L678.58 105.59 L679.39 105.51 L680.20 105.43 L681.01 105.35 L681.82 105.26 L682.64 105.18 L683.45 105.10 L684.26 105.02 L685.07 104.94 L685.88 104.85 L686.69 104.77 L687.50 104.69 L688.32 104.61 L689.13 104.53 L689.94 104.45 L690.75 104.37 L691.56 104.29 L692.37 104.21 L693.19 104.13 L694.00 104.05 L694.81 103.97 L695.62 103.90 L696.43 103.82 L697.24 103.74 L698.06 103.66 L698.87 103.58 L699.68 103.51 L700.49 103.43 L701.30 103.35 L702.11 103.27 L702.93 103.20 L703.74 103.12 L704.55 103.04 L705.36 102.97 L706.17 102.89 L706.98 102.81 L707.79 102.74 L708.61 102.66 L709.42 102.59 L710.23 102.51 L711.04 102.44 L711.85 102.36 L712.66 102.29 L713.48 102.21 L714.29 102.14 L715.10 102.06 L715.91 101.99 L716.72 101.92 L717.53 101.84 L718.35 101.77 L719.16 101.69 L719.97 101.62 L720.78 101.55 L721.59 101.48 L722.40 101.40 L723.22 101.33 L724.03 101.26 L724.84 101.19 L725.65 101.11 L726.46 101.04 L727.27 100.97 L728.08 100.90 L728.90 100.83 L729.71 100.76 L730.52 100.69 L731.33 100.62 L732.14 100.55 L732.95 100.47 L733.77 100.40 L734.58 100.33 L735.39 100.26 L736.20 100.20 L737.01 100.13 L737.82 100.06 L738.64 99.99 L739.45 99.92 L740.26 99.85 L741.07 99.78 L741.88 99.71 L742.69 99.64 L743.51 99.58 L744.32 99.51 L745.13 99.44 L745.94 99.37 L746.75 99.30 L747.56 99.24 L748.37 99.17 L749.19 99.10 L750.00 99.03 L750.81 98.97 L751.62 98.90 L752.43 98.83 L753.24 98.77 L754.06 98.70 L754.87 98.64 L755.68 98.57 L756.49 98.50 L757.30 98.44 L758.11 98.37 L758.93 98.31 L759.74 98.24 L760.55 98.18 L761.36 98.11 L762.17 98.05 L762.98 97.98 L763.80 97.92 L764.61 97.86 L765.42 97.79 L766.23 97.73 L767.04 97.66 L767.85 97.60 L768.66 97.54 L769.48 97.47 L770.29 97.41 L771.10 97.35 L771.91 97.28 L772.72 97.22 L773.53 97.16 L774.35 97.10 L775.16 97.03 L775.97 96.97 L776.78 96.91 L777.59 96.85 L778.40 96.78 L779.22 96.72 L780.03 96.66 L780.84 96.60 L781.65 96.54 L782.46 96.48 L783.27 96.42 L784.09 96.36 L784.90 96.30 L785.71 96.23 L786.52 96.17 L787.33 96.11 L788.14 96.05 L788.95 95.99 L789.77 95.93 L790.58 95.87 L791.39 95.81 L792.20 95.75 L793.01 95.69 L793.82 95.64 L794.64 95.58 L795.45 95.52 L796.26 95.46 L797.07 95.40 L797.88 95.34 L798.69 95.28 L799.51 95.22 L800.32 95.17 L801.13 95.11 L801.94 95.05 L802.75 94.99 L803.56 94.93 L804.38 94.88 L805.19 94.82 L806.00 94.76 L806.81 94.70 L807.62 94.65 L808.43 94.59 L809.24 94.53 L810.06 94.48 L810.87 94.42 L811.68 94.36 L812.49 94.31 L813.30 94.25 L814.11 94.19 L814.93 94.14 L815.74 94.08 L816.55 94.03 L817.36 93.97 L818.17 93.92 L818.98 93.86 L819.80 93.80 L820.61 93.75 L821.42 93.69 L822.23 93.64 L823.04 93.58 L823.85 93.53 L824.67 93.47 L825.48 93.42 L826.29 93.37 L827.10 93.31 L827.91 93.26 L828.72 93.20 L829.53 93.15 L830.35 93.10 L831.16 93.04 L831.97 92.99 L832.78 92.93 L833.59 92.88 L834.40 92.83 L835.22 92.77 L836.03 92.72 L836.84 92.67 L837.65 92.62 L838.46 92.56 L839.27 92.51 L840.09 92.46 L840.90 92.41 L841.71 92.35 L842.52 92.30 L843.33 92.25 L844.14 92.20 L844.96 92.14 L845.77 92.09 L846.58 92.04 L847.39 91.99 L848.20 91.94 L849.01 91.89 L849.82 91.84 L850.64 91.78 L851.45 91.73 L852.26 91.68 L853.07 91.63 L853.88 91.58 L854.69 91.53 L855.51 91.48 L856.32 91.43 L857.13 91.38 L857.94 91.33 L858.75 91.28 L859.56 91.23 L860.38 91.18 L861.19 91.13 L862.00 91.08 L862.81 91.03 L863.62 90.98 L864.43 90.93 L865.25 90.88 L866.06 90.83 L866.87 90.78 L867.68 90.73 L868.49 90.68 L869.30 90.64 L870.11 90.59 L870.93 90.54 L871.74 90.49 L872.55 90.44 L873.36 90.39 L874.17 90.35 L874.98 90.30 L875.80 90.25 L876.61 90.20 L877.42 90.15 L878.23 90.11 L879.04 90.06 L879.85 90.01 L880.67 89.96 L881.48 89.91 L882.29 89.87 L883.10 89.82 L883.91 89.77 L884.72 89.73 L885.54 89.68 L886.35 89.63 L887.16 89.59 L887.97 89.54 L888.78 89.49 L889.59 89.45 L890.40 89.40 L891.22 89.35 L892.03 89.31 L892.84 89.26 L893.65 89.21 L894.46 89.17 L895.27 89.12 L896.09 89.08 L896.90 89.03 L897.71 88.99 L898.52 88.94 L899.33 88.89 L900.14 88.85 L900.96 88.80 L901.77 88.76 L902.58 88.71 L903.39 88.67 L904.20 88.62 L905.01 88.58 L905.83 88.53 L906.64 88.49 L907.45 88.44 L908.26 88.40 L909.07 88.36 L909.88 88.31 L910.69 88.27 L911.51 88.22 L912.32 88.18 L913.13 88.14 L913.94 88.09 L914.75 88.05 L915.56 88.00 L916.38 87.96 L917.19 87.92 L918.00 87.87 L918.81 87.83 L919.62 87.79 L920.43 87.74 L921.25 87.70 L922.06 87.66 L922.87 87.61 L923.68 87.57 L924.49 87.53 L925.30 87.49 L926.12 87.44 L926.93 87.40 L927.74 87.36 L928.55 87.31" stroke="#d95319" stroke-dasharray="0.0 3.2 21.0 5.0 10.0 5.0 21.0 5.0 10.0 5.0 21.0 5.0 10.5 4.9 21.5 5.6 10.5 5.5 17.6 5.5 9.8 6.1 23.7 3.3 10.6 5.3 21.9 5.6 11.9 4.8 22.7 4.9 12.1 6.7 22.0 6.9 12.3 7.2 24.1 7.3 13.2 9.3 26.5 8.4 12.1 8.0 23.5 4.6 10.1 3.1 36.2 4.8 11.4 4.9 23.2 4.7 11.1 5.5 22.0 5.5 10.9 5.1 21.7 5.1 10.3 6.1 21.6 5.1 10.2 6.2 20.3 5.8 10.2 5.5 21.4 6.0 10.0 4.8 20.3 5.6 8.1 4.8 10.6 4.8 21.1 5.6 10.5 4.9 21.0 5.7 10.5 5.6 20.3 5.6 10.5 5.6 20.2 5.6 10.5 4.9 20.9 5.7 9.7 5.6 21.0 5.6 6.2 500.0"/>
<path d="M116.95 660.00 L117.15 658.07 L117.36 656.16 L117.56 654.26 L117.76 652.36 L117.96 650.48 L118.17 648.62 L118.37 646.76 L118.57 644.91 L118.78 643.08 L118.98 641.26 L119.18 639.45 L119.38 637.64 L119.59 635.85 L119.79 634.07 L119.99 632.31 L120.20 630.55 L120.40 628.80 L120.60 627.06 L120.81 625.33 L121.01 623.62 L121.21 621.91 L121.41 620.21 L121.62 618.53 L121.82 616.85 L122.02 615.18 L122.23 613.53 L122.43 611.88 L122.63 610.24 L122.83 608.62 L123.04 607.00 L123.24 605.39 L123.44 603.80 L123.65 602.22 L123.85 600.65 L124.05 599.09 L124.25 597.54 L124.46 596.01 L124.66 594.49 L124.86 592.98 L125.07 591.49 L125.27 590.01 L125.47 588.54 L125.67 587.10 L125.88 585.67 L126.08 584.25 L126.28 582.85 L126.49 581.47 L126.69 580.11 L126.89 578.77 L127.09 577.45 L127.30 576.14 L127.50 574.86 L127.70 573.59 L127.91 572.35 L128.11 571.13 L128.31 569.92 L128.52 568.74 L128.72 567.58 L128.92 566.44 L129.12 565.33 L129.33 564.23 L129.53 563.16 L129.73 562.11 L129.94 561.08 L130.14 560.08 L130.34 559.10 L130.54 558.13 L130.75 557.20 L130.95 556.28 L131.15 555.38 L131.36 554.51 L131.56 553.66 L131.76 552.83 L131.96 552.03 L132.17 551.24 L132.37 550.48 L132.57 549.73 L132.78 549.01 L132.98 548.31 L133.18 547.63 L133.38 546.97 L133.59 546.33 L133.79 545.71 L133.99 545.11 L134.20 544.52 L134.40 543.96 L134.60 543.42 L134.81 542.89 L135.01 542.39 L135.21 541.90 L135.41 541.43 L135.62 540.98 L135.82 540.54 L136.02 540.12 L136.23 539.72 L136.43 539.33 L136.63 538.96 L136.83 538.61 L137.04 538.27 L137.24 537.95 L137.44 537.64 L137.65 537.35 L137.85 537.07 L138.05 536.81 L138.25 536.56 L138.46 536.32 L138.66 536.10 L138.86 535.89 L139.07 535.69 L139.27 535.50 L139.47 535.33 L139.67 535.17 L139.88 535.02 L140.08 534.88 L140.28 534.76 L140.49 534.64 L140.69 534.54 L140.89 534.45 L141.10 534.37 L141.30 534.29 L141.50 534.23 L141.70 534.18 L141.91 534.14 L142.11 534.10 L142.31 534.08 L142.52 534.06 L142.72 534.05 L142.92 534.06 L143.12 534.06 L143.33 534.08 L143.53 534.11 L143.73 534.14 L143.94 534.18 L144.14 534.23 L144.34 534.29 L144.54 534.35 L144.75 534.42 L144.95 534.49 L145.15 534.57 L145.36 534.66 L145.56 534.76 L145.76 534.86 L145.96 534.97 L146.17 535.08 L146.37 535.20 L146.57 535.32 L146.78 535.45 L146.98 535.58 L147.18 535.72 L147.38 535.86 L147.59 536.01 L147.79 536.16 L147.99 536.32 L148.20 536.48 L148.40 536.65 L148.60 536.82 L148.81 536.99 L149.01 537.17 L149.21 537.35 L149.41 537.54 L149.62 537.73 L149.82 537.92 L150.02 538.12 L150.23 538.31 L150.43 538.52 L150.63 538.72 L150.83 538.93 L151.04 539.14 L151.24 539.36 L151.44 539.57 L151.65 539.79 L151.85 540.02 L152.05 540.24 L152.25 540.47 L152.46 540.70 L152.66 540.93 L152.86 541.16 L153.07 541.40 L153.27 541.63 L153.47 541.87 L153.67 542.12 L153.88 542.36 L154.08 542.61 L154.28 542.85 L154.49 543.10 L154.69 543.35 L154.89 543.60 L155.10 543.86 L155.30 544.11 L155.50 544.37 L155.70 544.62 L155.91 544.88 L156.11 545.14 L156.31 545.40 L156.52 545.66 L156.72 545.93 L156.92 546.19 L157.12 546.46 L157.33 546.72 L157.53 546.99 L157.73 547.26 L157.94 547.52 L158.14 547.79 L158.34 548.06 L158.54 548.33 L158.75 548.60 L158.95 548.88 L159.15 549.15 L159.36 549.42 L159.56 549.69 L159.76 549.97 L159.96 550.24 L160.17 550.51 L160.37 550.79 L160.57 551.06 L160.78 551.34 L160.98 551.61 L161.18 551.89 L161.39 552.17 L161.59 552.44 L161.79 552.72 L161.99 552.99 L162.20 553.27 L162.40 553.55 L162.60 553.82 L162.81 554.10 L163.01 554.38 L163.21 554.65 L163.41 554.93 L163.62 555.21 L163.82 555.48 L164.02 555.76 L164.23 556.04 L164.43 556.31 L164.63 556.59 L164.83 556.86 L165.04 557.14 L165.24 557.41 L165.44 557.69 L165.65 557.96 L165.85 558.24 L166.05 558.51 L166.25 558.79 L166.46 559.06 L166.66 559.33 L166.86 559.61 L167.07 559.88 L167.27 560.15 L167.47 560.42 L167.68 560.69 L167.88 560.97 L168.08 561.24 L168.28 561.51 L168.49 561.78 L168.69 562.05 L168.89 562.31 L169.10 562.58 L169.30 562.85 L169.50 563.12 L169.70 563.39 L169.91 563.65 L170.11 563.92 L170.31 564.18 L170.52 564.45 L170.72 564.71 L170.92 564.98 L171.12 565.24 L171.33 565.50 L171.53 565.76 L171.73 566.03 L171.94 566.29 L172.14 566.55 L172.34 566.81 L172.54 567.07 L172.75 567.33 L172.95 567.58 L173.15 567.84 L173.36 568.10 L173.56 568.35 L173.76 568.61 L173.96 568.87 L174.17 569.12 L174.37 569.37 L174.57 569.63 L174.78 569.88 L174.98 570.13 L175.18 570.38 L175.39 570.63 L175.59 570.88 L175.79 571.13 L175.99 571.38 L176.20 571.63 L176.40 571.87 L176.60 572.12 L176.81 572.37 L177.01 572.61 L177.21 572.86 L177.41 573.10 L177.62 573.34 L177.82 573.58 L178.02 573.83 L178.23 574.07 L178.43 574.31 L178.63 574.55 L178.83 574.79 L179.04 575.02 L179.24 575.26 L179.44 575.50 L179.65 575.73 L179.85 575.97 L180.05 576.20 L180.25 576.44 L180.46 576.67 L180.66 576.90 L180.86 577.14 L181.07 577.37 L181.27 577.60 L181.47 577.83 L181.68 578.06 L181.88 578.28 L182.08 578.51 L182.28 578.74 L182.49 578.96 L182.69 579.19 L182.89 579.41 L183.10 579.64 L183.30 579.86 L183.50 580.08 L183.70 580.31 L183.91 580.53 L184.11 580.75 L184.31 580.97 L184.52 581.19 L184.72 581.40 L184.92 581.62 L185.12 581.84 L185.33 582.05 L185.53 582.27 L185.73 582.48 L185.94 582.70 L186.14 582.91 L186.34 583.12 L186.54 583.34 L186.75 583.55 L186.95 583.76 L187.15 583.97 L187.36 584.18 L187.56 584.38 L187.76 584.59 L187.96 584.80 L188.17 585.01 L188.37 585.21 L188.57 585.42 L188.78 585.62 L188.98 585.82 L189.18 586.03 L189.39 586.23 L189.59 586.43 L189.79 586.63 L189.99 586.83 L190.20 587.03 L190.40 587.23 L190.60 587.43 L190.81 587.63 L191.01 587.82 L191.21 588.02 L191.41 588.21 L191.62 588.41 L191.82 588.60 L192.02 588.80 L192.23 588.99 L192.43 589.18 L192.63 589.37 L192.83 589.56 L193.04 589.75 L193.24 589.94 L193.44 590.13 L193.65 590.32 L193.85 590.51 L194.05 590.69 L194.25 590.88 L194.46 591.07 L194.66 591.25 L194.86 591.44 L195.07 591.62 L195.27 591.80 L195.47 591.98 L195.68 592.17 L195.88 592.35 L196.08 592.53 L196.28 592.71 L196.49 592.89 L196.69 593.07 L196.89 593.24 L197.10 593.42 L197.30 593.60 L197.50 593.77 L197.70 593.95 L197.91 594.12 L198.11 594.30 L198.92 594.99 L199.73 595.67 L200.54 596.34 L201.36 597.01 L202.17 597.66 L202.98 598.31 L203.79 598.94 L204.60 599.57 L205.41 600.19 L206.23 600.80 L207.04 601.40 L207.85 601.99 L208.66 602.57 L209.47 603.15 L210.28 603.72 L211.10 604.28 L211.91 604.83 L212.72 605.38 L213.53 605.92 L214.34 606.45 L215.15 606.97 L215.97 607.49 L216.78 608.00 L217.59 608.50 L218.40 609.00 L219.21 609.49 L220.02 609.97 L220.83 610.44 L221.65 610.91 L222.46 611.38 L223.27 611.83 L224.08 612.29 L224.89 612.73 L225.70 613.17 L226.52 613.60 L227.33 614.03 L228.14 614.45 L228.95 614.87 L229.76 615.28 L230.57 615.69 L231.39 616.09 L232.20 616.48 L233.01 616.87 L233.82 617.26 L234.63 617.64 L235.44 618.02 L236.26 618.39 L237.07 618.75 L237.88 619.11 L238.69 619.47 L239.50 619.82 L240.31 620.17 L241.12 620.52 L241.94 620.86 L242.75 621.19 L243.56 621.52 L244.37 621.85 L245.18 622.17 L245.99 622.49 L246.81 622.81 L247.62 623.12 L248.43 623.42 L249.24 623.73 L250.05 624.03 L250.86 624.33 L251.68 624.62 L252.49 624.91 L253.30 625.19 L254.11 625.48 L254.92 625.76 L255.73 626.03 L256.55 626.31 L257.36 626.58 L258.17 626.84 L258.98 627.11 L259.79 627.37 L260.60 627.62 L261.41 627.88 L262.23 628.13 L263.04 628.38 L263.85 628.62 L264.66 628.87 L265.47 629.11 L266.28 629.34 L267.10 629.58 L267.91 629.81 L268.72 630.04 L269.53 630.27 L270.34 630.49 L271.15 630.72 L271.97 630.93 L272.78 631.15 L273.59 631.37 L274.40 631.58 L275.21 631.79 L276.02 632.00 L276.84 632.20 L277.65 632.41 L278.46 632.61 L279.27 632.81 L280.08 633.00 L280.89 633.20 L281.70 633.39 L282.52 633.58 L283.33 633.77 L284.14 633.96 L284.95 634.14 L285.76 634.33 L286.57 634.51 L287.39 634.69 L288.20 634.86 L289.01 635.04 L289.82 635.21 L290.63 635.38 L291.44 635.55 L292.26 635.72 L293.07 635.89 L293.88 636.05 L294.69 636.22 L295.50 636.38 L296.31 636.54 L297.13 636.70 L297.94 636.86 L298.75 637.01 L299.56 637.16 L300.37 637.32 L301.18 637.47 L301.99 637.62 L302.81 637.76 L303.62 637.91 L304.43 638.06 L305.24 638.20 L306.05 638.34 L306.86 638.48 L307.68 638.62 L308.49 638.76 L309.30 638.90 L310.11 639.03 L310.92 639.17 L311.73 639.30 L312.55 639.43 L313.36 639.56 L314.17 639.69 L314.98 639.82 L315.79 639.95 L316.60 640.07 L317.42 640.20 L318.23 640.32 L319.04 640.44 L319.85 640.56 L320.66 640.68 L321.47 640.80 L322.28 640.92 L323.10 641.04 L323.91 641.15 L324.72 641.27 L325.53 641.38 L326.34 641.49 L327.15 641.60 L327.97 641.71 L328.78 641.82 L329.59 641.93 L330.40 642.04 L331.21 642.15 L332.02 642.25 L332.84 642.36 L333.65 642.46 L334.46 642.56 L335.27 642.67 L336.08 642.77 L336.89 642.87 L337.71 642.97 L338.52 643.07 L339.33 643.16 L340.14 643.26 L340.95 643.36 L341.76 643.45 L342.57 643.55 L343.39 643.64 L344.20 643.73 L345.01 643.83 L345.82 643.92 L346.63 644.01 L347.44 644.10 L348.26 644.19 L349.07 644.27 L349.88 644.36 L350.69 644.45 L351.50 644.53 L352.31 644.62 L353.13 644.70 L353.94 644.79 L354.75 644.87 L355.56 644.96 L356.37 645.04 L357.18 645.12 L358.00 645.20 L358.81 645.28 L359.62 645.36 L360.43 645.44 L361.24 645.52 L362.05 645.59 L362.86 645.67 L363.68 645.75 L364.49 645.82 L365.30 645.90 L366.11 645.97 L366.92 646.05 L367.73 646.12 L368.55 646.19 L369.36 646.26 L370.17 646.33 L370.98 646.41 L371.79 646.48 L372.60 646.55 L373.42 646.62 L374.23 646.68 L375.04 646.75 L375.85 646.82 L376.66 646.89 L377.47 646.96 L378.29 647.02 L379.10 647.09 L379.91 647.15 L380.72 647.22 L381.53 647.28 L382.34 647.35 L383.15 647.41 L383.97 647.47 L384.78 647.53 L385.59 647.60 L386.40 647.66 L387.21 647.72 L388.02 647.78 L388.84 647.84 L389.65 647.90 L390.46 647.96 L391.27 648.02 L392.08 648.08 L392.89 648.13 L393.71 648.19 L394.52 648.25 L395.33 648.31 L396.14 648.36 L396.95 648.42 L397.76 648.47 L398.58 648.53 L399.39 648.58 L400.20 648.64 L401.01 648.69 L401.82 648.74 L402.63 648.80 L403.44 648.85 L404.26 648.90 L405.07 648.96 L405.88 649.01 L406.69 649.06 L407.50 649.11 L408.31 649.16 L409.13 649.21 L409.94 649.26 L410.75 649.31 L411.56 649.36 L412.37 649.41 L413.18 649.46 L414.00 649.51 L414.81 649.55 L415.62 649.60 L416.43 649.65 L417.24 649.70 L418.05 649.74 L418.87 649.79 L419.68 649.83 L420.49 649.88 L421.30 649.93 L422.11 649.97 L422.92 650.02 L423.73 650.06 L424.55 650.10 L425.36 650.15 L426.17 650.19 L426.98 650.23 L427.79 650.28 L428.60 650.32 L429.42 650.36 L430.23 650.41 L431.04 650.45 L431.85 650.49 L432.66 650.53 L433.47 650.57 L434.29 650.61 L435.10 650.65 L435.91 650.69 L436.72 650.73 L437.53 650.77 L438.34 650.81 L439.16 650.85 L439.97 650.89 L440.78 650.93 L441.59 650.97 L442.40 651.01 L443.21 651.04 L444.02 651.08 L444.84 651.12 L445.65 651.16 L446.46 651.19 L447.27 651.23 L448.08 651.27 L448.89 651.30 L449.71 651.34 L450.52 651.38 L451.33 651.41 L452.14 651.45 L452.95 651.48 L453.76 651.52 L454.58 651.55 L455.39 651.59 L456.20 651.62 L457.01 651.66 L457.82 651.69 L458.63 651.72 L459.45 651.76 L460.26 651.79 L461.07 651.82 L461.88 651.86 L462.69 651.89 L463.50 651.92 L464.31 651.96 L465.13 651.99 L465.94 652.02 L466.75 652.05 L467.56 652.08 L468.37 652.11 L469.18 652.15 L470.00 652.18 L470.81 652.21 L471.62 652.24 L472.43 652.27 L473.24 652.30 L474.05 652.33 L474.87 652.36 L475.68 652.39 L476.49 652.42 L477.30 652.45 L478.11 652.48 L478.92 652.51 L479.74 652.54 L480.55 652.57 L481.36 652.59 L482.17 652.62 L482.98 652.65 L483.79 652.68 L484.60 652.71 L485.42 652.73 L486.23 652.76 L487.04 652.79 L487.85 652.82 L488.66 652.84 L489.47 652.87 L490.29 652.90 L491.10 652.93 L491.91 652.95 L492.72 652.98 L493.53 653.00 L494.34 653.03 L495.16 653.06 L495.97 653.08 L496.78 653.11 L497.59 653.13 L498.40 653.16 L499.21 653.18 L500.03 653.21 L500.84 653.23 L501.65 653.26 L502.46 653.28 L503.27 653.31 L504.08 653.33 L504.89 653.36 L505.71 653.38 L506.52 653.41 L507.33 653.43 L508.14 653.45 L508.95 653.48 L509.76 653.50 L510.58 653.52 L511.39 653.55 L512.20 653.57 L513.01 653.59 L513.82 653.62 L514.63 653.64 L515.45 653.66 L516.26 653.69 L517.07 653.71 L517.88 653.73 L518.69 653.75 L519.50 653.77 L520.32 653.80 L521.13 653.82 L521.94 653.84 L522.75 653.86 L523.56 653.88 L524.37 653.90 L525.18 653.93 L526.00 653.95 L526.81 653.97 L527.62 653.99 L528.43 654.01 L529.24 654.03 L530.05 654.05 L530.87 654.07 L531.68 654.09 L532.49 654.11 L533.30 654.13 L534.11 654.15 L534.92 654.17 L535.74 654.19 L536.55 654.21 L537.36 654.23 L538.17 654.25 L538.98 654.27 L539.79 654.29 L540.61 654.31 L541.42 654.33 L542.23 654.35 L543.04 654.37 L543.85 654.39 L544.66 654.40 L545.47 654.42 L546.29 654.44 L547.10 654.46 L547.91 654.48 L548.72 654.50 L549.53 654.52 L550.34 654.53 L551.16 654.55 L551.97 654.57 L552.78 654.59 L553.59 654.61 L554.40 654.62 L555.21 654.64 L556.03 654.66 L556.84 654.68 L557.65 654.69 L558.46 654.71 L559.27 654.73 L560.08 654.75 L560.90 654.76 L561.71 654.78 L562.52 654.80 L563.33 654.81 L564.14 654.83 L564.95 654.85 L565.76 654.86 L566.58 654.88 L567.39 654.90 L568.20 654.91 L569.01 654.93 L569.82 654.94 L570.63 654.96 L571.45 654.98 L572.26 654.99 L573.07 655.01 L573.88 655.02 L574.69 655.04 L575.50 655.06 L576.32 655.07 L577.13 655.09 L577.94 655.10 L578.75 655.12 L579.56 655.13 L580.37 655.15 L581.19 655.16 L582.00 655.18 L582.81 655.19 L583.62 655.21 L584.43 655.22 L585.24 655.24 L586.05 655.25 L586.87 655.27 L587.68 655.28 L588.49 655.30 L589.30 655.31 L590.11 655.32 L590.92 655.34 L591.74 655.35 L592.55 655.37 L593.36 655.38 L594.17 655.40 L594.98 655.41 L595.79 655.42 L596.61 655.44 L597.42 655.45 L598.23 655.46 L599.04 655.48 L599.85 655.49 L600.66 655.51 L601.48 655.52 L602.29 655.53 L603.10 655.55 L603.91 655.56 L604.72 655.57 L605.53 655.59 L606.34 655.60 L607.16 655.61 L607.97 655.63 L608.78 655.64 L609.59 655.65 L610.40 655.66 L611.21 655.68 L612.03 655.69 L612.84 655.70 L613.65 655.71 L614.46 655.73 L615.27 655.74 L616.08 655.75 L616.90 655.76 L617.71 655.78 L618.52 655.79 L619.33 655.80 L620.14 655.81 L620.95 655.83 L621.77 655.84 L622.58 655.85 L623.39 655.86 L624.20 655.87 L625.01 655.89 L625.82 655.90 L626.63 655.91 L627.45 655.92 L628.26 655.93 L629.07 655.94 L629.88 655.96 L630.69 655.97 L631.50 655.98 L632.32 655.99 L633.13 656.00 L633.94 656.01 L634.75 656.02 L635.56 656.04 L636.37 656.05 L637.19 656.06 L638.00 656.07 L638.81 656.08 L639.62 656.09 L640.43 656.10 L641.24 656.11 L642.06 656.12 L642.87 656.13 L643.68 656.15 L644.49 656.16 L645.30 656.17 L646.11 656.18 L646.92 656.19 L647.74 656.20 L648.55 656.21 L649.36 656.22 L650.17 656.23 L650.98 656.24 L651.79 656.25 L652.61 656.26 L653.42 656.27 L654.23 656.28 L655.04 656.29 L655.85 656.30 L656.66 656.31 L657.48 656.32 L658.29 656.33 L659.10 656.34 L659.91 656.35 L660.72 656.36 L661.53 656.37 L662.35 656.38 L663.16 656.39 L663.97 656.40 L664.78 656.41 L665.59 656.42 L666.40 656.43 L667.21 656.44 L668.03 656.45 L668.84 656.46 L669.65 656.47 L670.46 656.48 L671.27 656.49 L672.08 656.50 L672.90 656.50 L673.71 656.51 L674.52 656.52 L675.33 656.53 L676.14 656.54 L676.95 656.55 L677.77 656.56 L678.58 656.57 L679.39 656.58 L680.20 656.59 L681.01 656.60 L681.82 656.60 L682.64 656.61 L683.45 656.62 L684.26 656.63 L685.07 656.64 L685.88 656.65 L686.69 656.66 L687.50 656.67 L688.32 656.67 L689.13 656.68 L689.94 656.69 L690.75 656.70 L691.56 656.71 L692.37 656.72 L693.19 656.73 L694.00 656.73 L694.81 656.74 L695.62 656.75 L696.43 656.76 L697.24 656.77 L698.06 656.78 L698.87 656.78 L699.68 656.79 L700.49 656.80 L701.30 656.81 L702.11 656.82 L702.93 656.82 L703.74 656.83 L704.55 656.84 L705.36 656.85 L706.17 656.86 L706.98 656.86 L707.79 656.87 L708.61 656.88 L709.42 656.89 L710.23 656.90 L711.04 656.90 L711.85 656.91 L712.66 656.92 L713.48 656.93 L714.29 656.93 L715.10 656.94 L715.91 656.95 L716.72 656.96 L717.53 656.96 L718.35 656.97 L719.16 656.98 L719.97 656.99 L720.78 656.99 L721.59 657.00 L722.40 657.01 L723.22 657.02 L724.03 657.02 L724.84 657.03 L725.65 657.04 L726.46 657.05 L727.27 657.05 L728.08 657.06 L728.90 657.07 L729.71 657.07 L730.52 657.08 L731.33 657.09 L732.14 657.09 L732.95 657.10 L733.77 657.11 L734.58 657.12 L735.39 657.12 L736.20 657.13 L737.01 657.14 L737.82 657.14 L738.64 657.15 L739.45 657.16 L740.26 657.16 L741.07 657.17 L741.88 657.18 L742.69 657.18 L743.51 657.19 L744.32 657.20 L745.13 657.20 L745.94 657.21 L746.75 657.22 L747.56 657.22 L748.37 657.23 L749.19 657.24 L750.00 657.24 L750.81 657.25 L751.62 657.26 L752.43 657.26 L753.24 657.27 L754.06 657.28 L754.87 657.28 L755.68 657.29 L756.49 657.29 L757.30 657.30 L758.11 657.31 L758.93 657.31 L759.74 657.32 L760.55 657.33 L761.36 657.33 L762.17 657.34 L762.98 657.34 L763.80 657.35 L764.61 657.36 L765.42 657.36 L766.23 657.37 L767.04 657.38 L767.85 657.38 L768.66 657.39 L769.48 657.39 L770.29 657.40 L771.10 657.41 L771.91 657.41 L772.72 657.42 L773.53 657.42 L774.35 657.43 L775.16 657.43 L775.97 657.44 L776.78 657.45 L777.59 657.45 L778.40 657.46 L779.22 657.46 L780.03 657.47 L780.84 657.48 L781.65 657.48 L782.46 657.49 L783.27 657.49 L784.09 657.50 L784.90 657.50 L785.71 657.51 L786.52 657.51 L787.33 657.52 L788.14 657.53 L788.95 657.53 L789.77 657.54 L790.58 657.54 L791.39 657.55 L792.20 657.55 L793.01 657.56 L793.82 657.56 L794.64 657.57 L795.45 657.57 L796.26 657.58 L797.07 657.59 L797.88 657.59 L798.69 657.60 L799.51 657.60 L800.32 657.61 L801.13 657.61 L801.94 657.62 L802.75 657.62 L803.56 657.63 L804.38 657.63 L805.19 657.64 L806.00 657.64 L806.81 657.65 L807.62 657.65 L808.43 657.66 L809.24 657.66 L810.06 657.67 L810.87 657.67 L811.68 657.68 L812.49 657.68 L813.30 657.69 L814.11 657.69 L814.93 657.70 L815.74 657.70 L816.55 657.71 L817.36 657.71 L818.17 657.72 L818.98 657.72 L819.80 657.73 L820.61 657.73 L821.42 657.74 L822.23 657.74 L823.04 657.75 L823.85 657.75 L824.67 657.76 L825.48 657.76 L826.29 657.77 L827.10 657.77 L827.91 657.78 L828.72 657.78 L829.53 657.79 L830.35 657.79 L831.16 657.79 L831.97 657.80 L832.78 657.80 L833.59 657.81 L834.40 657.81 L835.22 657.82 L836.03 657.82 L836.84 657.83 L837.65 657.83 L838.46 657.84 L839.27 657.84 L840.09 657.84 L840.90 657.85 L841.71 657.85 L842.52 657.86 L843.33 657.86 L844.14 657.87 L844.96 657.87 L845.77 657.88 L846.58 657.88 L847.39 657.88 L848.20 657.89 L849.01 657.89 L849.82 657.90 L850.64 657.90 L851.45 657.91 L852.26 657.91 L853.07 657.91 L853.88 657.92 L854.69 657.92 L855.51 657.93 L856.32 657.93 L857.13 657.94 L857.94 657.94 L858.75 657.94 L859.56 657.95 L860.38 657.95 L861.19 657.96 L862.00 657.96 L862.81 657.97 L863.62 657.97 L864.43 657.97 L865.25 657.98 L866.06 657.98 L866.87 657.99 L867.68 657.99 L868.49 657.99 L869.30 658.00 L870.11 658.00 L870.93 658.01 L871.74 658.01 L872.55 658.01 L873.36 658.02 L874.17 658.02 L874.98 658.03 L875.80 658.03 L876.61 658.03 L877.42 658.04 L878.23 658.04 L879.04 658.05 L879.85 658.05 L880.67 658.05 L881.48 658.06 L882.29 658.06 L883.10 658.06 L883.91 658.07 L884.72 658.07 L885.54 658.08 L886.35 658.08 L887.16 658.08 L887.97 658.09 L888.78 658.09 L889.59 658.09 L890.40 658.10 L891.22 658.10 L892.03 658.11 L892.84 658.11 L893.65 658.11 L894.46 658.12 L895.27 658.12 L896.09 658.12 L896.90 658.13 L897.71 658.13 L898.52 658.14 L899.33 658.14 L900.14 658.14 L900.96 658.15 L901.77 658.15 L902.58 658.15 L903.39 658.16 L904.20 658.16 L905.01 658.16 L905.83 658.17 L906.64 658.17 L907.45 658.17 L908.26 658.18 L909.07 658.18 L909.88 658.18 L910.69 658.19 L911.51 658.19 L912.32 658.20 L913.13 658.20 L913.94 658.20 L914.75 658.21 L915.56 658.21 L916.38 658.21 L917.19 658.22 L918.00 658.22 L918.81 658.22 L919.62 658.23 L920.43 658.23 L921.25 658.23 L922.06 658.24 L922.87 658.24 L923.68 658.24 L924.49 658.25 L925.30 658.25 L926.12 658.25 L926.93 658.26 L927.74 658.26 L928.55 658.26" stroke="#edb120"/>
</g>
<g stroke="#000" stroke-width="3.6" stroke-dasharray="13.5 14.5" fill="none">
<line x1="115.5" y1="350.75" x2="181.88" y2="350.75" stroke-dasharray="15.5 14.2 13.5 14.2 13.5 100"/>
<line x1="115.5" y1="432.47" x2="181.88" y2="432.47" stroke-dasharray="15.5 14.2 13.5 14.2 13.5 100"/>
<line x1="181.88" y1="660.00" x2="181.88" y2="350.75"/>
</g>
<rect x="174.38" y="343.25" width="15" height="15" fill="#000"/>
<path d="M181.88 420.47 L190.88 432.47 L181.88 444.47 L172.88 432.47Z" fill="#000"/>

<g font-size="37.5" fill="#262626"><text x="106.52" y="707.80" font-size="37.50" fill="#262626">0</text><text x="293.78" y="707.80" font-size="37.50" fill="#262626">0.5</text><path d="M0.364 0 L0.364 -0.675 L0.297 -0.675 C0.255 -0.603 0.195 -0.553 0.122 -0.503 L0.122 -0.446 C0.185 -0.471 0.245 -0.503 0.285 -0.538 L0.285 0 Z" transform="translate(512.32 707.80) scale(37.500)" fill="#262626"/><path d="M0.364 0 L0.364 -0.675 L0.297 -0.675 C0.255 -0.603 0.195 -0.553 0.122 -0.503 L0.122 -0.446 C0.185 -0.471 0.245 -0.503 0.285 -0.538 L0.285 0 Z" transform="translate(699.58 707.80) scale(37.500)" fill="#262626"/><text x="720.44" y="707.80" font-size="37.50" fill="#262626">.5</text><text x="918.12" y="707.80" font-size="37.50" fill="#262626">2</text><text x="85.44" y="674.30" font-size="37.50" fill="#262626">0</text><text x="54.17" y="550.60" font-size="37.50" fill="#262626">0.2</text><text x="54.17" y="426.90" font-size="37.50" fill="#262626">0.4</text><text x="54.17" y="303.20" font-size="37.50" fill="#262626">0.6</text><text x="54.17" y="179.50" font-size="37.50" fill="#262626">0.8</text><path d="M0.364 0 L0.364 -0.675 L0.297 -0.675 C0.255 -0.603 0.195 -0.553 0.122 -0.503 L0.122 -0.446 C0.185 -0.471 0.245 -0.503 0.285 -0.538 L0.285 0 Z" transform="translate(85.44 55.80) scale(37.500)" fill="#262626"/></g>
<text x="527.3" y="758.5" font-size="33" fill="#262626" text-anchor="middle">Concentration [g/l]</text>
<text x="522.6" y="29.5" font-size="40.1" font-weight="bold" fill="#000" text-anchor="middle">Comparison of MTS and Monod growth functions</text>
<g transform="translate(24.5 527) rotate(-90)" fill="#262626">
<text x="-0.6" y="0" font-size="32.7">Growth Factor (</text>
<path d="M234.80 -13.20 L229.30 6.30 M232.90 -1.80 C233.20 1.00 238.80 1.20 240.90 -4.20 M243.90 -12.90 L241.60 -2.20 C241.00 0.80 243.80 1.30 246.00 -4.00" fill="none" stroke="#262626" stroke-width="1.90" stroke-linecap="round"/>
<text x="247.1" y="19.4" font-size="25.3">max</text>
<text x="304.60" y="0.00" font-size="32.70" fill="#262626">= </text><path d="M0.364 0 L0.364 -0.675 L0.297 -0.675 C0.255 -0.603 0.195 -0.553 0.122 -0.503 L0.122 -0.446 C0.185 -0.471 0.245 -0.503 0.285 -0.538 L0.285 0 Z" transform="translate(332.78 0.00) scale(32.700)" fill="#262626"/><text x="350.97" y="0.00" font-size="32.70" fill="#262626">)</text>
</g>

<rect x="433.1" y="204.6" width="477.2" height="291.2" fill="#fff" stroke="#333" stroke-width="1.6"/>
<g fill="none" stroke-width="5.1">
<line x1="441" y1="236.5" x2="501.5" y2="236.5" stroke="#0072bd" stroke-dasharray="24 20"/>
<line x1="441" y1="294.5" x2="501.5" y2="294.5" stroke="#d95319" stroke-dasharray="23.6 5 11 4.6 16"/>
<line x1="441" y1="345.5" x2="501.5" y2="345.5" stroke="#edb120"/>
</g>
<path d="M471.2 388.1 L480.6 400.5 L471.2 412.9 L461.8 400.5Z" fill="#000"/>
<rect x="463.5" y="455.6" width="15.6" height="15.6" fill="#000"/>
<g fill="#000">
<text x="503.25" y="241.60" font-size="33.00" fill="#000">MTS: V</text><text x="613.50" y="258.00" font-size="25.40" fill="#000">h</text><text x="637.10" y="241.60" font-size="33.00" fill="#000">= 5.00,</text><path d="M753.00 219.10 C755.70 219.00 757.00 220.20 757.70 222.80 L763.10 240.00 C763.40 240.80 763.90 241.10 764.50 241.20 M758.90 231.00 L749.90 241.00" fill="none" stroke="#000" stroke-width="1.90" stroke-linecap="round"/><text x="776.20" y="241.60" font-size="33.00" fill="#000">= 0.80</text>
<text x="511.95" y="300.60" font-size="33.00" fill="#000">Monod: K</text><text x="653.00" y="317.00" font-size="25.40" fill="#000">s</text><text x="674.70" y="300.60" font-size="33.00" fill="#000">= 0.</text><path d="M0.364 0 L0.364 -0.675 L0.297 -0.675 C0.255 -0.603 0.195 -0.553 0.122 -0.503 L0.122 -0.446 C0.185 -0.471 0.245 -0.503 0.285 -0.538 L0.285 0 Z" transform="translate(730.66 300.60) scale(33.000)" fill="#000"/><text x="749.01" y="300.60" font-size="33.00" fill="#000">60</text>
<text x="503.45" y="358.10" font-size="33.00" fill="#000">Difference MTS and Monod</text>
<text x="512.50" y="410.60" font-size="33.00" fill="#000">(</text><path d="M538.70 388.10 C541.40 388.00 542.70 389.20 543.40 391.80 L548.80 409.00 C549.10 409.80 549.60 410.10 550.20 410.20 M544.60 400.00 L535.60 410.00" fill="none" stroke="#000" stroke-width="1.90" stroke-linecap="round"/><text x="562.10" y="410.60" font-size="33.00" fill="#000">V</text><text x="583.30" y="427.00" font-size="25.40" fill="#000">h</text><text x="583.00" y="394.60" font-size="25.40" fill="#000">-</text><path d="M0.364 0 L0.364 -0.675 L0.297 -0.675 C0.255 -0.603 0.195 -0.553 0.122 -0.503 L0.122 -0.446 C0.185 -0.471 0.245 -0.503 0.285 -0.538 L0.285 0 Z" transform="translate(591.46 394.60) scale(25.400)" fill="#000"/><text x="605.90" y="410.60" font-size="33.00" fill="#000">,e</text><text x="633.40" y="394.60" font-size="25.40" fill="#000">-</text><path d="M0.364 0 L0.364 -0.675 L0.297 -0.675 C0.255 -0.603 0.195 -0.553 0.122 -0.503 L0.122 -0.446 C0.185 -0.471 0.245 -0.503 0.285 -0.538 L0.285 0 Z" transform="translate(641.86 394.60) scale(25.400)" fill="#000"/><path d="M672.70 397.00 L667.20 416.50 M670.80 408.40 C671.10 411.20 676.70 411.40 678.80 406.00 M681.80 397.30 L679.50 408.00 C678.90 411.00 681.70 411.50 683.90 406.20" fill="none" stroke="#000" stroke-width="1.90" stroke-linecap="round"/><text x="685.00" y="427.00" font-size="25.40" fill="#000">max</text><text x="735.70" y="410.60" font-size="33.00" fill="#000">)</text>
<text x="512.50" y="469.30" font-size="33.00" fill="#000">(</text><text x="532.60" y="469.30" font-size="33.00" fill="#000">K</text><text x="555.00" y="485.70" font-size="25.40" fill="#000">s</text><text x="567.00" y="469.30" font-size="33.00" fill="#000">, 0.5</text><path d="M647.90 455.70 L642.40 475.20 M646.00 467.10 C646.30 469.90 651.90 470.10 654.00 464.70 M657.00 456.00 L654.70 466.70 C654.10 469.70 656.90 470.20 659.10 464.90" fill="none" stroke="#000" stroke-width="1.90" stroke-linecap="round"/><text x="660.00" y="485.70" font-size="25.40" fill="#000">max</text><text x="709.50" y="469.30" font-size="33.00" fill="#000">)</text>
</g>

</svg>
</body></html>
